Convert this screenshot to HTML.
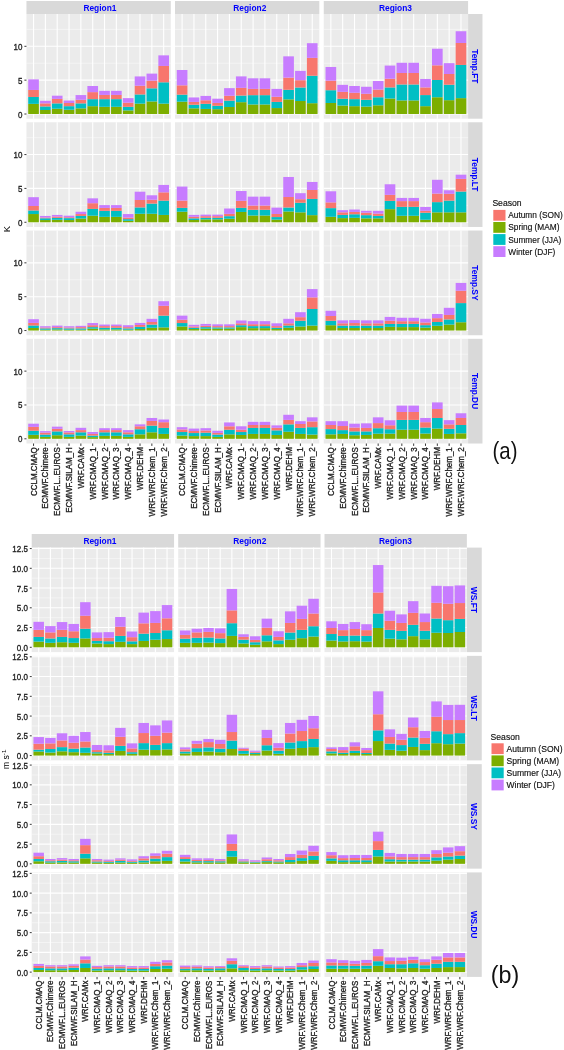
<!DOCTYPE html>
<html><head><meta charset="utf-8"><style>
html,body{margin:0;padding:0;background:#fff;}
body{width:564px;height:1050px;overflow:hidden;}
svg{display:block;filter:blur(0.35px);}
text{font-family:"Liberation Sans", sans-serif;}
.st{font-size:8.4px;font-weight:bold;fill:#0000FF;}
.yt{font-size:8px;fill:#1e1e1e;stroke:#1e1e1e;stroke-width:0.3px;}
.ttl{font-size:9.5px;fill:#000;}
.lt{font-size:8.6px;fill:#111;stroke:#111;stroke-width:0.15px;}
.lab{font-size:8.2px;fill:#111;stroke:#111;stroke-width:0.15px;}
.tag{font-size:24px;fill:#111;}
.gmaj{stroke:#fff;stroke-width:1.1;}
.gmin{stroke:#fff;stroke-width:0.45;}
.tk{stroke:#222;stroke-width:0.9;}
</style></head>
<body><svg width="564" height="1050" viewBox="0 0 564 1050">
<rect width="564" height="1050" fill="#fff"/>
<rect x="26.45" y="1" width="144.33" height="13" fill="#D9D9D9"/>
<text x="99.9" y="11.3" class="st" text-anchor="middle">Region1</text>
<rect x="175" y="1" width="144.33" height="13" fill="#D9D9D9"/>
<text x="249.8" y="11.3" class="st" text-anchor="middle">Region2</text>
<rect x="323.75" y="1" width="144.33" height="13" fill="#D9D9D9"/>
<text x="395.5" y="11.3" class="st" text-anchor="middle">Region3</text>
<rect x="468.08" y="14" width="14.4" height="104.7" fill="#D9D9D9"/>
<text x="472.08" y="66.35" class="st" text-anchor="middle" transform="rotate(90 472.08 66.35)">Temp.FT</text>
<rect x="26.45" y="14" width="144.33" height="104.7" fill="#EBEBEB"/>
<line x1="26.45" x2="170.78" y1="97.08" y2="97.08" class="gmin"/>
<line x1="26.45" x2="170.78" y1="63.23" y2="63.23" class="gmin"/>
<line x1="26.45" x2="170.78" y1="29.38" y2="29.38" class="gmin"/>
<line x1="26.45" x2="170.78" y1="114" y2="114" class="gmaj"/>
<line x1="26.45" x2="170.78" y1="80.15" y2="80.15" class="gmaj"/>
<line x1="26.45" x2="170.78" y1="46.3" y2="46.3" class="gmaj"/>
<line x1="33.55" x2="33.55" y1="14" y2="118.7" class="gmaj"/>
<line x1="45.38" x2="45.38" y1="14" y2="118.7" class="gmaj"/>
<line x1="57.21" x2="57.21" y1="14" y2="118.7" class="gmaj"/>
<line x1="69.04" x2="69.04" y1="14" y2="118.7" class="gmaj"/>
<line x1="80.87" x2="80.87" y1="14" y2="118.7" class="gmaj"/>
<line x1="92.7" x2="92.7" y1="14" y2="118.7" class="gmaj"/>
<line x1="104.53" x2="104.53" y1="14" y2="118.7" class="gmaj"/>
<line x1="116.36" x2="116.36" y1="14" y2="118.7" class="gmaj"/>
<line x1="128.19" x2="128.19" y1="14" y2="118.7" class="gmaj"/>
<line x1="140.02" x2="140.02" y1="14" y2="118.7" class="gmaj"/>
<line x1="151.85" x2="151.85" y1="14" y2="118.7" class="gmaj"/>
<line x1="163.68" x2="163.68" y1="14" y2="118.7" class="gmaj"/>
<rect x="28.22" y="103.87" width="10.65" height="10.13" fill="#7CAE00"/>
<rect x="28.22" y="96.98" width="10.65" height="6.89" fill="#00BFC4"/>
<rect x="28.22" y="89.96" width="10.65" height="7.02" fill="#F8766D"/>
<rect x="28.22" y="79.36" width="10.65" height="10.6" fill="#C77CFF"/>
<rect x="40.05" y="110" width="10.65" height="4" fill="#7CAE00"/>
<rect x="40.05" y="106.43" width="10.65" height="3.57" fill="#00BFC4"/>
<rect x="40.05" y="103.36" width="10.65" height="3.06" fill="#F8766D"/>
<rect x="40.05" y="100.81" width="10.65" height="2.55" fill="#C77CFF"/>
<rect x="51.89" y="108.73" width="10.65" height="5.27" fill="#7CAE00"/>
<rect x="51.89" y="103.36" width="10.65" height="5.36" fill="#00BFC4"/>
<rect x="51.89" y="98.9" width="10.65" height="4.47" fill="#F8766D"/>
<rect x="51.89" y="95.7" width="10.65" height="3.19" fill="#C77CFF"/>
<rect x="63.72" y="109.75" width="10.65" height="4.25" fill="#7CAE00"/>
<rect x="63.72" y="106.17" width="10.65" height="3.57" fill="#00BFC4"/>
<rect x="63.72" y="102.98" width="10.65" height="3.19" fill="#F8766D"/>
<rect x="63.72" y="100.56" width="10.65" height="2.43" fill="#C77CFF"/>
<rect x="75.55" y="108.34" width="10.65" height="5.66" fill="#7CAE00"/>
<rect x="75.55" y="103.36" width="10.65" height="4.98" fill="#00BFC4"/>
<rect x="75.55" y="99.79" width="10.65" height="3.57" fill="#F8766D"/>
<rect x="75.55" y="95.07" width="10.65" height="4.72" fill="#C77CFF"/>
<rect x="87.38" y="106.17" width="10.65" height="7.83" fill="#7CAE00"/>
<rect x="87.38" y="99.15" width="10.65" height="7.02" fill="#00BFC4"/>
<rect x="87.38" y="92.13" width="10.65" height="7.02" fill="#F8766D"/>
<rect x="87.38" y="86" width="10.65" height="6.13" fill="#C77CFF"/>
<rect x="99.21" y="106.81" width="10.65" height="7.19" fill="#7CAE00"/>
<rect x="99.21" y="99.15" width="10.65" height="7.66" fill="#00BFC4"/>
<rect x="99.21" y="94.94" width="10.65" height="4.21" fill="#F8766D"/>
<rect x="99.21" y="90.85" width="10.65" height="4.09" fill="#C77CFF"/>
<rect x="111.04" y="106.81" width="10.65" height="7.19" fill="#7CAE00"/>
<rect x="111.04" y="99.15" width="10.65" height="7.66" fill="#00BFC4"/>
<rect x="111.04" y="94.94" width="10.65" height="4.21" fill="#F8766D"/>
<rect x="111.04" y="90.85" width="10.65" height="4.09" fill="#C77CFF"/>
<rect x="122.87" y="110.39" width="10.65" height="3.61" fill="#7CAE00"/>
<rect x="122.87" y="106.81" width="10.65" height="3.57" fill="#00BFC4"/>
<rect x="122.87" y="102.73" width="10.65" height="4.09" fill="#F8766D"/>
<rect x="122.87" y="98.13" width="10.65" height="4.6" fill="#C77CFF"/>
<rect x="134.7" y="103.62" width="10.65" height="10.38" fill="#7CAE00"/>
<rect x="134.7" y="94.43" width="10.65" height="9.19" fill="#00BFC4"/>
<rect x="134.7" y="85.75" width="10.65" height="8.68" fill="#F8766D"/>
<rect x="134.7" y="76.43" width="10.65" height="9.32" fill="#C77CFF"/>
<rect x="146.53" y="101.45" width="10.65" height="12.55" fill="#7CAE00"/>
<rect x="146.53" y="88.3" width="10.65" height="13.15" fill="#00BFC4"/>
<rect x="146.53" y="80.64" width="10.65" height="7.66" fill="#F8766D"/>
<rect x="146.53" y="73.62" width="10.65" height="7.02" fill="#C77CFF"/>
<rect x="158.36" y="103.62" width="10.65" height="10.38" fill="#7CAE00"/>
<rect x="158.36" y="82.3" width="10.65" height="21.32" fill="#00BFC4"/>
<rect x="158.36" y="65.96" width="10.65" height="16.34" fill="#F8766D"/>
<rect x="158.36" y="55.36" width="10.65" height="10.6" fill="#C77CFF"/>
<rect x="175" y="14" width="144.33" height="104.7" fill="#EBEBEB"/>
<line x1="175" x2="319.33" y1="97.08" y2="97.08" class="gmin"/>
<line x1="175" x2="319.33" y1="63.23" y2="63.23" class="gmin"/>
<line x1="175" x2="319.33" y1="29.38" y2="29.38" class="gmin"/>
<line x1="175" x2="319.33" y1="114" y2="114" class="gmaj"/>
<line x1="175" x2="319.33" y1="80.15" y2="80.15" class="gmaj"/>
<line x1="175" x2="319.33" y1="46.3" y2="46.3" class="gmaj"/>
<line x1="182.1" x2="182.1" y1="14" y2="118.7" class="gmaj"/>
<line x1="193.93" x2="193.93" y1="14" y2="118.7" class="gmaj"/>
<line x1="205.76" x2="205.76" y1="14" y2="118.7" class="gmaj"/>
<line x1="217.59" x2="217.59" y1="14" y2="118.7" class="gmaj"/>
<line x1="229.42" x2="229.42" y1="14" y2="118.7" class="gmaj"/>
<line x1="241.25" x2="241.25" y1="14" y2="118.7" class="gmaj"/>
<line x1="253.08" x2="253.08" y1="14" y2="118.7" class="gmaj"/>
<line x1="264.91" x2="264.91" y1="14" y2="118.7" class="gmaj"/>
<line x1="276.74" x2="276.74" y1="14" y2="118.7" class="gmaj"/>
<line x1="288.57" x2="288.57" y1="14" y2="118.7" class="gmaj"/>
<line x1="300.4" x2="300.4" y1="14" y2="118.7" class="gmaj"/>
<line x1="312.23" x2="312.23" y1="14" y2="118.7" class="gmaj"/>
<rect x="176.77" y="101.66" width="10.65" height="12.34" fill="#7CAE00"/>
<rect x="176.77" y="94.64" width="10.65" height="7.02" fill="#00BFC4"/>
<rect x="176.77" y="85.32" width="10.65" height="9.32" fill="#F8766D"/>
<rect x="176.77" y="70" width="10.65" height="15.32" fill="#C77CFF"/>
<rect x="188.6" y="108.3" width="10.65" height="5.7" fill="#7CAE00"/>
<rect x="188.6" y="104.73" width="10.65" height="3.57" fill="#00BFC4"/>
<rect x="188.6" y="101.92" width="10.65" height="2.81" fill="#F8766D"/>
<rect x="188.6" y="97.45" width="10.65" height="4.47" fill="#C77CFF"/>
<rect x="200.44" y="108.94" width="10.65" height="5.06" fill="#7CAE00"/>
<rect x="200.44" y="103.83" width="10.65" height="5.11" fill="#00BFC4"/>
<rect x="200.44" y="100.26" width="10.65" height="3.57" fill="#F8766D"/>
<rect x="200.44" y="95.92" width="10.65" height="4.34" fill="#C77CFF"/>
<rect x="212.27" y="109.19" width="10.65" height="4.81" fill="#7CAE00"/>
<rect x="212.27" y="105.75" width="10.65" height="3.45" fill="#00BFC4"/>
<rect x="212.27" y="102.94" width="10.65" height="2.81" fill="#F8766D"/>
<rect x="212.27" y="98.73" width="10.65" height="4.21" fill="#C77CFF"/>
<rect x="224.1" y="107.02" width="10.65" height="6.98" fill="#7CAE00"/>
<rect x="224.1" y="100.64" width="10.65" height="6.38" fill="#00BFC4"/>
<rect x="224.1" y="95.79" width="10.65" height="4.85" fill="#F8766D"/>
<rect x="224.1" y="88.13" width="10.65" height="7.66" fill="#C77CFF"/>
<rect x="235.93" y="102.17" width="10.65" height="11.83" fill="#7CAE00"/>
<rect x="235.93" y="95.53" width="10.65" height="6.64" fill="#00BFC4"/>
<rect x="235.93" y="87.87" width="10.65" height="7.66" fill="#F8766D"/>
<rect x="235.93" y="76.38" width="10.65" height="11.49" fill="#C77CFF"/>
<rect x="247.76" y="104.47" width="10.65" height="9.53" fill="#7CAE00"/>
<rect x="247.76" y="95.15" width="10.65" height="9.32" fill="#00BFC4"/>
<rect x="247.76" y="88.9" width="10.65" height="6.26" fill="#F8766D"/>
<rect x="247.76" y="78.3" width="10.65" height="10.6" fill="#C77CFF"/>
<rect x="259.59" y="104.47" width="10.65" height="9.53" fill="#7CAE00"/>
<rect x="259.59" y="95.15" width="10.65" height="9.32" fill="#00BFC4"/>
<rect x="259.59" y="88.9" width="10.65" height="6.26" fill="#F8766D"/>
<rect x="259.59" y="78.3" width="10.65" height="10.6" fill="#C77CFF"/>
<rect x="271.42" y="108.05" width="10.65" height="5.95" fill="#7CAE00"/>
<rect x="271.42" y="101.92" width="10.65" height="6.13" fill="#00BFC4"/>
<rect x="271.42" y="96.81" width="10.65" height="5.11" fill="#F8766D"/>
<rect x="271.42" y="88.9" width="10.65" height="7.92" fill="#C77CFF"/>
<rect x="283.25" y="99.36" width="10.65" height="14.64" fill="#7CAE00"/>
<rect x="283.25" y="89.79" width="10.65" height="9.57" fill="#00BFC4"/>
<rect x="283.25" y="77.66" width="10.65" height="12.13" fill="#F8766D"/>
<rect x="283.25" y="56.34" width="10.65" height="21.32" fill="#C77CFF"/>
<rect x="295.08" y="101.02" width="10.65" height="12.98" fill="#7CAE00"/>
<rect x="295.08" y="87.49" width="10.65" height="13.53" fill="#00BFC4"/>
<rect x="295.08" y="80.21" width="10.65" height="7.28" fill="#F8766D"/>
<rect x="295.08" y="70.89" width="10.65" height="9.32" fill="#C77CFF"/>
<rect x="306.91" y="103.19" width="10.65" height="10.81" fill="#7CAE00"/>
<rect x="306.91" y="75.75" width="10.65" height="27.45" fill="#00BFC4"/>
<rect x="306.91" y="57.87" width="10.65" height="17.87" fill="#F8766D"/>
<rect x="306.91" y="43.19" width="10.65" height="14.68" fill="#C77CFF"/>
<rect x="323.75" y="14" width="144.33" height="104.7" fill="#EBEBEB"/>
<line x1="323.75" x2="468.08" y1="97.08" y2="97.08" class="gmin"/>
<line x1="323.75" x2="468.08" y1="63.23" y2="63.23" class="gmin"/>
<line x1="323.75" x2="468.08" y1="29.38" y2="29.38" class="gmin"/>
<line x1="323.75" x2="468.08" y1="114" y2="114" class="gmaj"/>
<line x1="323.75" x2="468.08" y1="80.15" y2="80.15" class="gmaj"/>
<line x1="323.75" x2="468.08" y1="46.3" y2="46.3" class="gmaj"/>
<line x1="330.85" x2="330.85" y1="14" y2="118.7" class="gmaj"/>
<line x1="342.68" x2="342.68" y1="14" y2="118.7" class="gmaj"/>
<line x1="354.51" x2="354.51" y1="14" y2="118.7" class="gmaj"/>
<line x1="366.34" x2="366.34" y1="14" y2="118.7" class="gmaj"/>
<line x1="378.17" x2="378.17" y1="14" y2="118.7" class="gmaj"/>
<line x1="390" x2="390" y1="14" y2="118.7" class="gmaj"/>
<line x1="401.83" x2="401.83" y1="14" y2="118.7" class="gmaj"/>
<line x1="413.66" x2="413.66" y1="14" y2="118.7" class="gmaj"/>
<line x1="425.49" x2="425.49" y1="14" y2="118.7" class="gmaj"/>
<line x1="437.32" x2="437.32" y1="14" y2="118.7" class="gmaj"/>
<line x1="449.15" x2="449.15" y1="14" y2="118.7" class="gmaj"/>
<line x1="460.98" x2="460.98" y1="14" y2="118.7" class="gmaj"/>
<rect x="325.52" y="102.98" width="10.65" height="11.02" fill="#7CAE00"/>
<rect x="325.52" y="90.22" width="10.65" height="12.77" fill="#00BFC4"/>
<rect x="325.52" y="80.64" width="10.65" height="9.57" fill="#F8766D"/>
<rect x="325.52" y="66.98" width="10.65" height="13.66" fill="#C77CFF"/>
<rect x="337.35" y="105.54" width="10.65" height="8.46" fill="#7CAE00"/>
<rect x="337.35" y="98.77" width="10.65" height="6.77" fill="#00BFC4"/>
<rect x="337.35" y="91.88" width="10.65" height="6.89" fill="#F8766D"/>
<rect x="337.35" y="84.85" width="10.65" height="7.02" fill="#C77CFF"/>
<rect x="349.19" y="106.17" width="10.65" height="7.83" fill="#7CAE00"/>
<rect x="349.19" y="99.15" width="10.65" height="7.02" fill="#00BFC4"/>
<rect x="349.19" y="92.77" width="10.65" height="6.38" fill="#F8766D"/>
<rect x="349.19" y="86" width="10.65" height="6.77" fill="#C77CFF"/>
<rect x="361.02" y="106.56" width="10.65" height="7.44" fill="#7CAE00"/>
<rect x="361.02" y="99.79" width="10.65" height="6.77" fill="#00BFC4"/>
<rect x="361.02" y="93.79" width="10.65" height="6" fill="#F8766D"/>
<rect x="361.02" y="86.77" width="10.65" height="7.02" fill="#C77CFF"/>
<rect x="372.85" y="105.28" width="10.65" height="8.72" fill="#7CAE00"/>
<rect x="372.85" y="97.24" width="10.65" height="8.04" fill="#00BFC4"/>
<rect x="372.85" y="89.58" width="10.65" height="7.66" fill="#F8766D"/>
<rect x="372.85" y="81.02" width="10.65" height="8.55" fill="#C77CFF"/>
<rect x="384.68" y="98.51" width="10.65" height="15.49" fill="#7CAE00"/>
<rect x="384.68" y="87.41" width="10.65" height="11.11" fill="#00BFC4"/>
<rect x="384.68" y="78.73" width="10.65" height="8.68" fill="#F8766D"/>
<rect x="384.68" y="65.58" width="10.65" height="13.15" fill="#C77CFF"/>
<rect x="396.51" y="100.43" width="10.65" height="13.57" fill="#7CAE00"/>
<rect x="396.51" y="84.47" width="10.65" height="15.96" fill="#00BFC4"/>
<rect x="396.51" y="72.98" width="10.65" height="11.49" fill="#F8766D"/>
<rect x="396.51" y="62.77" width="10.65" height="10.21" fill="#C77CFF"/>
<rect x="408.34" y="100.43" width="10.65" height="13.57" fill="#7CAE00"/>
<rect x="408.34" y="84.47" width="10.65" height="15.96" fill="#00BFC4"/>
<rect x="408.34" y="72.98" width="10.65" height="11.49" fill="#F8766D"/>
<rect x="408.34" y="62.77" width="10.65" height="10.21" fill="#C77CFF"/>
<rect x="420.17" y="106.17" width="10.65" height="7.83" fill="#7CAE00"/>
<rect x="420.17" y="95.07" width="10.65" height="11.11" fill="#00BFC4"/>
<rect x="420.17" y="87.41" width="10.65" height="7.66" fill="#F8766D"/>
<rect x="420.17" y="78.98" width="10.65" height="8.43" fill="#C77CFF"/>
<rect x="432" y="97.24" width="10.65" height="16.76" fill="#7CAE00"/>
<rect x="432" y="80" width="10.65" height="17.23" fill="#00BFC4"/>
<rect x="432" y="65.32" width="10.65" height="14.68" fill="#F8766D"/>
<rect x="432" y="48.72" width="10.65" height="16.6" fill="#C77CFF"/>
<rect x="443.83" y="100.17" width="10.65" height="13.83" fill="#7CAE00"/>
<rect x="443.83" y="84.73" width="10.65" height="15.45" fill="#00BFC4"/>
<rect x="443.83" y="74" width="10.65" height="10.72" fill="#F8766D"/>
<rect x="443.83" y="63.15" width="10.65" height="10.85" fill="#C77CFF"/>
<rect x="455.66" y="98.13" width="10.65" height="15.87" fill="#7CAE00"/>
<rect x="455.66" y="64.94" width="10.65" height="33.19" fill="#00BFC4"/>
<rect x="455.66" y="42.98" width="10.65" height="21.96" fill="#F8766D"/>
<rect x="455.66" y="31.23" width="10.65" height="11.75" fill="#C77CFF"/>
<text class="yt" text-anchor="end" transform="translate(22.5 117.5) scale(1,1.15)">0</text>
<line x1="24.4" x2="26.45" y1="114" y2="114" class="tk"/>
<text class="yt" text-anchor="end" transform="translate(22.5 83.65) scale(1,1.15)">5</text>
<line x1="24.4" x2="26.45" y1="80.15" y2="80.15" class="tk"/>
<text class="yt" text-anchor="end" transform="translate(22.5 49.8) scale(1,1.15)">10</text>
<line x1="24.4" x2="26.45" y1="46.3" y2="46.3" class="tk"/>
<rect x="468.08" y="122.27" width="14.4" height="104.7" fill="#D9D9D9"/>
<text x="472.08" y="174.62" class="st" text-anchor="middle" transform="rotate(90 472.08 174.62)">Temp.LT</text>
<rect x="26.45" y="122.27" width="144.33" height="104.7" fill="#EBEBEB"/>
<line x1="26.45" x2="170.78" y1="205.35" y2="205.35" class="gmin"/>
<line x1="26.45" x2="170.78" y1="171.5" y2="171.5" class="gmin"/>
<line x1="26.45" x2="170.78" y1="137.65" y2="137.65" class="gmin"/>
<line x1="26.45" x2="170.78" y1="222.27" y2="222.27" class="gmaj"/>
<line x1="26.45" x2="170.78" y1="188.42" y2="188.42" class="gmaj"/>
<line x1="26.45" x2="170.78" y1="154.57" y2="154.57" class="gmaj"/>
<line x1="33.55" x2="33.55" y1="122.27" y2="226.97" class="gmaj"/>
<line x1="45.38" x2="45.38" y1="122.27" y2="226.97" class="gmaj"/>
<line x1="57.21" x2="57.21" y1="122.27" y2="226.97" class="gmaj"/>
<line x1="69.04" x2="69.04" y1="122.27" y2="226.97" class="gmaj"/>
<line x1="80.87" x2="80.87" y1="122.27" y2="226.97" class="gmaj"/>
<line x1="92.7" x2="92.7" y1="122.27" y2="226.97" class="gmaj"/>
<line x1="104.53" x2="104.53" y1="122.27" y2="226.97" class="gmaj"/>
<line x1="116.36" x2="116.36" y1="122.27" y2="226.97" class="gmaj"/>
<line x1="128.19" x2="128.19" y1="122.27" y2="226.97" class="gmaj"/>
<line x1="140.02" x2="140.02" y1="122.27" y2="226.97" class="gmaj"/>
<line x1="151.85" x2="151.85" y1="122.27" y2="226.97" class="gmaj"/>
<line x1="163.68" x2="163.68" y1="122.27" y2="226.97" class="gmaj"/>
<rect x="28.22" y="214.04" width="10.65" height="8.23" fill="#7CAE00"/>
<rect x="28.22" y="210.47" width="10.65" height="3.57" fill="#00BFC4"/>
<rect x="28.22" y="206" width="10.65" height="4.47" fill="#F8766D"/>
<rect x="28.22" y="197.19" width="10.65" height="8.81" fill="#C77CFF"/>
<rect x="40.05" y="220.04" width="10.65" height="2.23" fill="#7CAE00"/>
<rect x="40.05" y="218.26" width="10.65" height="1.79" fill="#00BFC4"/>
<rect x="40.05" y="217.49" width="10.65" height="0.77" fill="#F8766D"/>
<rect x="40.05" y="215.96" width="10.65" height="1.53" fill="#C77CFF"/>
<rect x="51.89" y="219.79" width="10.65" height="2.48" fill="#7CAE00"/>
<rect x="51.89" y="217.87" width="10.65" height="1.91" fill="#00BFC4"/>
<rect x="51.89" y="216.6" width="10.65" height="1.28" fill="#F8766D"/>
<rect x="51.89" y="214.94" width="10.65" height="1.66" fill="#C77CFF"/>
<rect x="63.72" y="220.04" width="10.65" height="2.23" fill="#7CAE00"/>
<rect x="63.72" y="218.13" width="10.65" height="1.91" fill="#00BFC4"/>
<rect x="63.72" y="217.24" width="10.65" height="0.89" fill="#F8766D"/>
<rect x="63.72" y="215.7" width="10.65" height="1.53" fill="#C77CFF"/>
<rect x="75.55" y="218.51" width="10.65" height="3.76" fill="#7CAE00"/>
<rect x="75.55" y="215.96" width="10.65" height="2.55" fill="#00BFC4"/>
<rect x="75.55" y="214.04" width="10.65" height="1.91" fill="#F8766D"/>
<rect x="75.55" y="211.75" width="10.65" height="2.3" fill="#C77CFF"/>
<rect x="87.38" y="215.7" width="10.65" height="6.57" fill="#7CAE00"/>
<rect x="87.38" y="208.94" width="10.65" height="6.77" fill="#00BFC4"/>
<rect x="87.38" y="203.19" width="10.65" height="5.74" fill="#F8766D"/>
<rect x="87.38" y="198.34" width="10.65" height="4.85" fill="#C77CFF"/>
<rect x="99.21" y="216.85" width="10.65" height="5.42" fill="#7CAE00"/>
<rect x="99.21" y="210.85" width="10.65" height="6" fill="#00BFC4"/>
<rect x="99.21" y="207.92" width="10.65" height="2.94" fill="#F8766D"/>
<rect x="99.21" y="205.11" width="10.65" height="2.81" fill="#C77CFF"/>
<rect x="111.04" y="216.85" width="10.65" height="5.42" fill="#7CAE00"/>
<rect x="111.04" y="210.85" width="10.65" height="6" fill="#00BFC4"/>
<rect x="111.04" y="207.92" width="10.65" height="2.94" fill="#F8766D"/>
<rect x="111.04" y="205.11" width="10.65" height="2.81" fill="#C77CFF"/>
<rect x="122.87" y="220.81" width="10.65" height="1.46" fill="#7CAE00"/>
<rect x="122.87" y="219.15" width="10.65" height="1.66" fill="#00BFC4"/>
<rect x="122.87" y="217.62" width="10.65" height="1.53" fill="#F8766D"/>
<rect x="122.87" y="214.04" width="10.65" height="3.57" fill="#C77CFF"/>
<rect x="134.7" y="213.79" width="10.65" height="8.48" fill="#7CAE00"/>
<rect x="134.7" y="207.41" width="10.65" height="6.38" fill="#00BFC4"/>
<rect x="134.7" y="200" width="10.65" height="7.4" fill="#F8766D"/>
<rect x="134.7" y="191.7" width="10.65" height="8.3" fill="#C77CFF"/>
<rect x="146.53" y="213.79" width="10.65" height="8.48" fill="#7CAE00"/>
<rect x="146.53" y="203.58" width="10.65" height="10.21" fill="#00BFC4"/>
<rect x="146.53" y="199.75" width="10.65" height="3.83" fill="#F8766D"/>
<rect x="146.53" y="195.28" width="10.65" height="4.47" fill="#C77CFF"/>
<rect x="158.36" y="214.94" width="10.65" height="7.33" fill="#7CAE00"/>
<rect x="158.36" y="200.64" width="10.65" height="14.3" fill="#00BFC4"/>
<rect x="158.36" y="192.34" width="10.65" height="8.3" fill="#F8766D"/>
<rect x="158.36" y="184.94" width="10.65" height="7.4" fill="#C77CFF"/>
<rect x="175" y="122.27" width="144.33" height="104.7" fill="#EBEBEB"/>
<line x1="175" x2="319.33" y1="205.35" y2="205.35" class="gmin"/>
<line x1="175" x2="319.33" y1="171.5" y2="171.5" class="gmin"/>
<line x1="175" x2="319.33" y1="137.65" y2="137.65" class="gmin"/>
<line x1="175" x2="319.33" y1="222.27" y2="222.27" class="gmaj"/>
<line x1="175" x2="319.33" y1="188.42" y2="188.42" class="gmaj"/>
<line x1="175" x2="319.33" y1="154.57" y2="154.57" class="gmaj"/>
<line x1="182.1" x2="182.1" y1="122.27" y2="226.97" class="gmaj"/>
<line x1="193.93" x2="193.93" y1="122.27" y2="226.97" class="gmaj"/>
<line x1="205.76" x2="205.76" y1="122.27" y2="226.97" class="gmaj"/>
<line x1="217.59" x2="217.59" y1="122.27" y2="226.97" class="gmaj"/>
<line x1="229.42" x2="229.42" y1="122.27" y2="226.97" class="gmaj"/>
<line x1="241.25" x2="241.25" y1="122.27" y2="226.97" class="gmaj"/>
<line x1="253.08" x2="253.08" y1="122.27" y2="226.97" class="gmaj"/>
<line x1="264.91" x2="264.91" y1="122.27" y2="226.97" class="gmaj"/>
<line x1="276.74" x2="276.74" y1="122.27" y2="226.97" class="gmaj"/>
<line x1="288.57" x2="288.57" y1="122.27" y2="226.97" class="gmaj"/>
<line x1="300.4" x2="300.4" y1="122.27" y2="226.97" class="gmaj"/>
<line x1="312.23" x2="312.23" y1="122.27" y2="226.97" class="gmaj"/>
<rect x="176.77" y="211.7" width="10.65" height="10.57" fill="#7CAE00"/>
<rect x="176.77" y="207.87" width="10.65" height="3.83" fill="#00BFC4"/>
<rect x="176.77" y="200.6" width="10.65" height="7.28" fill="#F8766D"/>
<rect x="176.77" y="186.55" width="10.65" height="14.04" fill="#C77CFF"/>
<rect x="188.6" y="220" width="10.65" height="2.27" fill="#7CAE00"/>
<rect x="188.6" y="218.34" width="10.65" height="1.66" fill="#00BFC4"/>
<rect x="188.6" y="216.81" width="10.65" height="1.53" fill="#F8766D"/>
<rect x="188.6" y="214.9" width="10.65" height="1.91" fill="#C77CFF"/>
<rect x="200.44" y="219.36" width="10.65" height="2.91" fill="#7CAE00"/>
<rect x="200.44" y="217.83" width="10.65" height="1.53" fill="#00BFC4"/>
<rect x="200.44" y="216.17" width="10.65" height="1.66" fill="#F8766D"/>
<rect x="200.44" y="214.64" width="10.65" height="1.53" fill="#C77CFF"/>
<rect x="212.27" y="219.36" width="10.65" height="2.91" fill="#7CAE00"/>
<rect x="212.27" y="217.83" width="10.65" height="1.53" fill="#00BFC4"/>
<rect x="212.27" y="216.17" width="10.65" height="1.66" fill="#F8766D"/>
<rect x="212.27" y="214.64" width="10.65" height="1.53" fill="#C77CFF"/>
<rect x="224.1" y="218.73" width="10.65" height="3.54" fill="#7CAE00"/>
<rect x="224.1" y="216.17" width="10.65" height="2.55" fill="#00BFC4"/>
<rect x="224.1" y="213.87" width="10.65" height="2.3" fill="#F8766D"/>
<rect x="224.1" y="208.51" width="10.65" height="5.36" fill="#C77CFF"/>
<rect x="235.93" y="211.96" width="10.65" height="10.31" fill="#7CAE00"/>
<rect x="235.93" y="207.87" width="10.65" height="4.09" fill="#00BFC4"/>
<rect x="235.93" y="200.85" width="10.65" height="7.02" fill="#F8766D"/>
<rect x="235.93" y="191.02" width="10.65" height="9.83" fill="#C77CFF"/>
<rect x="247.76" y="215.53" width="10.65" height="6.74" fill="#7CAE00"/>
<rect x="247.76" y="209.79" width="10.65" height="5.74" fill="#00BFC4"/>
<rect x="247.76" y="205.58" width="10.65" height="4.21" fill="#F8766D"/>
<rect x="247.76" y="196.64" width="10.65" height="8.94" fill="#C77CFF"/>
<rect x="259.59" y="215.53" width="10.65" height="6.74" fill="#7CAE00"/>
<rect x="259.59" y="209.79" width="10.65" height="5.74" fill="#00BFC4"/>
<rect x="259.59" y="205.58" width="10.65" height="4.21" fill="#F8766D"/>
<rect x="259.59" y="196.64" width="10.65" height="8.94" fill="#C77CFF"/>
<rect x="271.42" y="219.62" width="10.65" height="2.65" fill="#7CAE00"/>
<rect x="271.42" y="217.07" width="10.65" height="2.55" fill="#00BFC4"/>
<rect x="271.42" y="214" width="10.65" height="3.06" fill="#F8766D"/>
<rect x="271.42" y="207.62" width="10.65" height="6.38" fill="#C77CFF"/>
<rect x="283.25" y="211.45" width="10.65" height="10.82" fill="#7CAE00"/>
<rect x="283.25" y="207.49" width="10.65" height="3.96" fill="#00BFC4"/>
<rect x="283.25" y="197.02" width="10.65" height="10.47" fill="#F8766D"/>
<rect x="283.25" y="176.98" width="10.65" height="20.04" fill="#C77CFF"/>
<rect x="295.08" y="212.34" width="10.65" height="9.93" fill="#7CAE00"/>
<rect x="295.08" y="202.77" width="10.65" height="9.57" fill="#00BFC4"/>
<rect x="295.08" y="199.19" width="10.65" height="3.57" fill="#F8766D"/>
<rect x="295.08" y="193.19" width="10.65" height="6" fill="#C77CFF"/>
<rect x="306.91" y="215.15" width="10.65" height="7.12" fill="#7CAE00"/>
<rect x="306.91" y="198.94" width="10.65" height="16.21" fill="#00BFC4"/>
<rect x="306.91" y="190" width="10.65" height="8.94" fill="#F8766D"/>
<rect x="306.91" y="181.96" width="10.65" height="8.04" fill="#C77CFF"/>
<rect x="323.75" y="122.27" width="144.33" height="104.7" fill="#EBEBEB"/>
<line x1="323.75" x2="468.08" y1="205.35" y2="205.35" class="gmin"/>
<line x1="323.75" x2="468.08" y1="171.5" y2="171.5" class="gmin"/>
<line x1="323.75" x2="468.08" y1="137.65" y2="137.65" class="gmin"/>
<line x1="323.75" x2="468.08" y1="222.27" y2="222.27" class="gmaj"/>
<line x1="323.75" x2="468.08" y1="188.42" y2="188.42" class="gmaj"/>
<line x1="323.75" x2="468.08" y1="154.57" y2="154.57" class="gmaj"/>
<line x1="330.85" x2="330.85" y1="122.27" y2="226.97" class="gmaj"/>
<line x1="342.68" x2="342.68" y1="122.27" y2="226.97" class="gmaj"/>
<line x1="354.51" x2="354.51" y1="122.27" y2="226.97" class="gmaj"/>
<line x1="366.34" x2="366.34" y1="122.27" y2="226.97" class="gmaj"/>
<line x1="378.17" x2="378.17" y1="122.27" y2="226.97" class="gmaj"/>
<line x1="390" x2="390" y1="122.27" y2="226.97" class="gmaj"/>
<line x1="401.83" x2="401.83" y1="122.27" y2="226.97" class="gmaj"/>
<line x1="413.66" x2="413.66" y1="122.27" y2="226.97" class="gmaj"/>
<line x1="425.49" x2="425.49" y1="122.27" y2="226.97" class="gmaj"/>
<line x1="437.32" x2="437.32" y1="122.27" y2="226.97" class="gmaj"/>
<line x1="449.15" x2="449.15" y1="122.27" y2="226.97" class="gmaj"/>
<line x1="460.98" x2="460.98" y1="122.27" y2="226.97" class="gmaj"/>
<rect x="325.52" y="216.81" width="10.65" height="5.46" fill="#7CAE00"/>
<rect x="325.52" y="208.13" width="10.65" height="8.68" fill="#00BFC4"/>
<rect x="325.52" y="202.38" width="10.65" height="5.74" fill="#F8766D"/>
<rect x="325.52" y="191.28" width="10.65" height="11.11" fill="#C77CFF"/>
<rect x="337.35" y="218.09" width="10.65" height="4.18" fill="#7CAE00"/>
<rect x="337.35" y="214.9" width="10.65" height="3.19" fill="#00BFC4"/>
<rect x="337.35" y="212.34" width="10.65" height="2.55" fill="#F8766D"/>
<rect x="337.35" y="210.17" width="10.65" height="2.17" fill="#C77CFF"/>
<rect x="349.19" y="217.83" width="10.65" height="4.44" fill="#7CAE00"/>
<rect x="349.19" y="214.26" width="10.65" height="3.57" fill="#00BFC4"/>
<rect x="349.19" y="211.96" width="10.65" height="2.3" fill="#F8766D"/>
<rect x="349.19" y="209.53" width="10.65" height="2.43" fill="#C77CFF"/>
<rect x="361.02" y="218.34" width="10.65" height="3.93" fill="#7CAE00"/>
<rect x="361.02" y="215.15" width="10.65" height="3.19" fill="#00BFC4"/>
<rect x="361.02" y="212.73" width="10.65" height="2.43" fill="#F8766D"/>
<rect x="361.02" y="210.81" width="10.65" height="1.91" fill="#C77CFF"/>
<rect x="372.85" y="218.34" width="10.65" height="3.93" fill="#7CAE00"/>
<rect x="372.85" y="215.92" width="10.65" height="2.43" fill="#00BFC4"/>
<rect x="372.85" y="213.62" width="10.65" height="2.3" fill="#F8766D"/>
<rect x="372.85" y="210.81" width="10.65" height="2.81" fill="#C77CFF"/>
<rect x="384.68" y="209.15" width="10.65" height="13.12" fill="#7CAE00"/>
<rect x="384.68" y="200.85" width="10.65" height="8.3" fill="#00BFC4"/>
<rect x="384.68" y="194.85" width="10.65" height="6" fill="#F8766D"/>
<rect x="384.68" y="184.26" width="10.65" height="10.6" fill="#C77CFF"/>
<rect x="396.51" y="215.79" width="10.65" height="6.48" fill="#7CAE00"/>
<rect x="396.51" y="206.85" width="10.65" height="8.94" fill="#00BFC4"/>
<rect x="396.51" y="201.11" width="10.65" height="5.74" fill="#F8766D"/>
<rect x="396.51" y="197.92" width="10.65" height="3.19" fill="#C77CFF"/>
<rect x="408.34" y="215.79" width="10.65" height="6.48" fill="#7CAE00"/>
<rect x="408.34" y="206.85" width="10.65" height="8.94" fill="#00BFC4"/>
<rect x="408.34" y="201.11" width="10.65" height="5.74" fill="#F8766D"/>
<rect x="408.34" y="197.92" width="10.65" height="3.19" fill="#C77CFF"/>
<rect x="420.17" y="219.75" width="10.65" height="2.52" fill="#7CAE00"/>
<rect x="420.17" y="212.73" width="10.65" height="7.02" fill="#00BFC4"/>
<rect x="420.17" y="210.81" width="10.65" height="1.91" fill="#F8766D"/>
<rect x="420.17" y="206.98" width="10.65" height="3.83" fill="#C77CFF"/>
<rect x="432" y="212.34" width="10.65" height="9.93" fill="#7CAE00"/>
<rect x="432" y="202.13" width="10.65" height="10.21" fill="#00BFC4"/>
<rect x="432" y="193.58" width="10.65" height="8.55" fill="#F8766D"/>
<rect x="432" y="179.79" width="10.65" height="13.79" fill="#C77CFF"/>
<rect x="443.83" y="212.34" width="10.65" height="9.93" fill="#7CAE00"/>
<rect x="443.83" y="200.6" width="10.65" height="11.75" fill="#00BFC4"/>
<rect x="443.83" y="193.83" width="10.65" height="6.77" fill="#F8766D"/>
<rect x="443.83" y="190.26" width="10.65" height="3.57" fill="#C77CFF"/>
<rect x="455.66" y="212.34" width="10.65" height="9.93" fill="#7CAE00"/>
<rect x="455.66" y="191.53" width="10.65" height="20.81" fill="#00BFC4"/>
<rect x="455.66" y="178.89" width="10.65" height="12.64" fill="#F8766D"/>
<rect x="455.66" y="174.68" width="10.65" height="4.21" fill="#C77CFF"/>
<text class="yt" text-anchor="end" transform="translate(22.5 225.77) scale(1,1.15)">0</text>
<line x1="24.4" x2="26.45" y1="222.27" y2="222.27" class="tk"/>
<text class="yt" text-anchor="end" transform="translate(22.5 191.92) scale(1,1.15)">5</text>
<line x1="24.4" x2="26.45" y1="188.42" y2="188.42" class="tk"/>
<text class="yt" text-anchor="end" transform="translate(22.5 158.07) scale(1,1.15)">10</text>
<line x1="24.4" x2="26.45" y1="154.57" y2="154.57" class="tk"/>
<rect x="468.08" y="230.54" width="14.4" height="104.7" fill="#D9D9D9"/>
<text x="472.08" y="282.89" class="st" text-anchor="middle" transform="rotate(90 472.08 282.89)">Temp.SY</text>
<rect x="26.45" y="230.54" width="144.33" height="104.7" fill="#EBEBEB"/>
<line x1="26.45" x2="170.78" y1="313.62" y2="313.62" class="gmin"/>
<line x1="26.45" x2="170.78" y1="279.77" y2="279.77" class="gmin"/>
<line x1="26.45" x2="170.78" y1="245.92" y2="245.92" class="gmin"/>
<line x1="26.45" x2="170.78" y1="330.54" y2="330.54" class="gmaj"/>
<line x1="26.45" x2="170.78" y1="296.69" y2="296.69" class="gmaj"/>
<line x1="26.45" x2="170.78" y1="262.84" y2="262.84" class="gmaj"/>
<line x1="33.55" x2="33.55" y1="230.54" y2="335.24" class="gmaj"/>
<line x1="45.38" x2="45.38" y1="230.54" y2="335.24" class="gmaj"/>
<line x1="57.21" x2="57.21" y1="230.54" y2="335.24" class="gmaj"/>
<line x1="69.04" x2="69.04" y1="230.54" y2="335.24" class="gmaj"/>
<line x1="80.87" x2="80.87" y1="230.54" y2="335.24" class="gmaj"/>
<line x1="92.7" x2="92.7" y1="230.54" y2="335.24" class="gmaj"/>
<line x1="104.53" x2="104.53" y1="230.54" y2="335.24" class="gmaj"/>
<line x1="116.36" x2="116.36" y1="230.54" y2="335.24" class="gmaj"/>
<line x1="128.19" x2="128.19" y1="230.54" y2="335.24" class="gmaj"/>
<line x1="140.02" x2="140.02" y1="230.54" y2="335.24" class="gmaj"/>
<line x1="151.85" x2="151.85" y1="230.54" y2="335.24" class="gmaj"/>
<line x1="163.68" x2="163.68" y1="230.54" y2="335.24" class="gmaj"/>
<rect x="28.22" y="328.02" width="10.65" height="2.52" fill="#7CAE00"/>
<rect x="28.22" y="325.47" width="10.65" height="2.55" fill="#00BFC4"/>
<rect x="28.22" y="322.92" width="10.65" height="2.55" fill="#F8766D"/>
<rect x="28.22" y="319.21" width="10.65" height="3.7" fill="#C77CFF"/>
<rect x="40.05" y="329.68" width="10.65" height="0.86" fill="#7CAE00"/>
<rect x="40.05" y="328.41" width="10.65" height="1.28" fill="#00BFC4"/>
<rect x="40.05" y="327.51" width="10.65" height="0.89" fill="#F8766D"/>
<rect x="40.05" y="326.24" width="10.65" height="1.28" fill="#C77CFF"/>
<rect x="51.89" y="329.43" width="10.65" height="1.11" fill="#7CAE00"/>
<rect x="51.89" y="328.15" width="10.65" height="1.28" fill="#00BFC4"/>
<rect x="51.89" y="327.13" width="10.65" height="1.02" fill="#F8766D"/>
<rect x="51.89" y="325.6" width="10.65" height="1.53" fill="#C77CFF"/>
<rect x="63.72" y="329.68" width="10.65" height="0.86" fill="#7CAE00"/>
<rect x="63.72" y="328.41" width="10.65" height="1.28" fill="#00BFC4"/>
<rect x="63.72" y="327.51" width="10.65" height="0.89" fill="#F8766D"/>
<rect x="63.72" y="326.24" width="10.65" height="1.28" fill="#C77CFF"/>
<rect x="75.55" y="329.68" width="10.65" height="0.86" fill="#7CAE00"/>
<rect x="75.55" y="328.41" width="10.65" height="1.28" fill="#00BFC4"/>
<rect x="75.55" y="327.13" width="10.65" height="1.28" fill="#F8766D"/>
<rect x="75.55" y="325.85" width="10.65" height="1.28" fill="#C77CFF"/>
<rect x="87.38" y="328.66" width="10.65" height="1.88" fill="#7CAE00"/>
<rect x="87.38" y="327.13" width="10.65" height="1.53" fill="#00BFC4"/>
<rect x="87.38" y="325.21" width="10.65" height="1.91" fill="#F8766D"/>
<rect x="87.38" y="323.04" width="10.65" height="2.17" fill="#C77CFF"/>
<rect x="99.21" y="329.43" width="10.65" height="1.11" fill="#7CAE00"/>
<rect x="99.21" y="327.77" width="10.65" height="1.66" fill="#00BFC4"/>
<rect x="99.21" y="326.11" width="10.65" height="1.66" fill="#F8766D"/>
<rect x="99.21" y="324.58" width="10.65" height="1.53" fill="#C77CFF"/>
<rect x="111.04" y="329.43" width="10.65" height="1.11" fill="#7CAE00"/>
<rect x="111.04" y="327.77" width="10.65" height="1.66" fill="#00BFC4"/>
<rect x="111.04" y="326.11" width="10.65" height="1.66" fill="#F8766D"/>
<rect x="111.04" y="324.58" width="10.65" height="1.53" fill="#C77CFF"/>
<rect x="122.87" y="329.68" width="10.65" height="0.86" fill="#7CAE00"/>
<rect x="122.87" y="328.41" width="10.65" height="1.28" fill="#00BFC4"/>
<rect x="122.87" y="327.13" width="10.65" height="1.28" fill="#F8766D"/>
<rect x="122.87" y="325.21" width="10.65" height="1.91" fill="#C77CFF"/>
<rect x="134.7" y="329.04" width="10.65" height="1.5" fill="#7CAE00"/>
<rect x="134.7" y="326.87" width="10.65" height="2.17" fill="#00BFC4"/>
<rect x="134.7" y="324.96" width="10.65" height="1.91" fill="#F8766D"/>
<rect x="134.7" y="322.92" width="10.65" height="2.04" fill="#C77CFF"/>
<rect x="146.53" y="327.77" width="10.65" height="2.77" fill="#7CAE00"/>
<rect x="146.53" y="324.58" width="10.65" height="3.19" fill="#00BFC4"/>
<rect x="146.53" y="322.02" width="10.65" height="2.55" fill="#F8766D"/>
<rect x="146.53" y="318.83" width="10.65" height="3.19" fill="#C77CFF"/>
<rect x="158.36" y="327.38" width="10.65" height="3.16" fill="#7CAE00"/>
<rect x="158.36" y="315.64" width="10.65" height="11.75" fill="#00BFC4"/>
<rect x="158.36" y="305.81" width="10.65" height="9.83" fill="#F8766D"/>
<rect x="158.36" y="301.21" width="10.65" height="4.6" fill="#C77CFF"/>
<rect x="175" y="230.54" width="144.33" height="104.7" fill="#EBEBEB"/>
<line x1="175" x2="319.33" y1="313.62" y2="313.62" class="gmin"/>
<line x1="175" x2="319.33" y1="279.77" y2="279.77" class="gmin"/>
<line x1="175" x2="319.33" y1="245.92" y2="245.92" class="gmin"/>
<line x1="175" x2="319.33" y1="330.54" y2="330.54" class="gmaj"/>
<line x1="175" x2="319.33" y1="296.69" y2="296.69" class="gmaj"/>
<line x1="175" x2="319.33" y1="262.84" y2="262.84" class="gmaj"/>
<line x1="182.1" x2="182.1" y1="230.54" y2="335.24" class="gmaj"/>
<line x1="193.93" x2="193.93" y1="230.54" y2="335.24" class="gmaj"/>
<line x1="205.76" x2="205.76" y1="230.54" y2="335.24" class="gmaj"/>
<line x1="217.59" x2="217.59" y1="230.54" y2="335.24" class="gmaj"/>
<line x1="229.42" x2="229.42" y1="230.54" y2="335.24" class="gmaj"/>
<line x1="241.25" x2="241.25" y1="230.54" y2="335.24" class="gmaj"/>
<line x1="253.08" x2="253.08" y1="230.54" y2="335.24" class="gmaj"/>
<line x1="264.91" x2="264.91" y1="230.54" y2="335.24" class="gmaj"/>
<line x1="276.74" x2="276.74" y1="230.54" y2="335.24" class="gmaj"/>
<line x1="288.57" x2="288.57" y1="230.54" y2="335.24" class="gmaj"/>
<line x1="300.4" x2="300.4" y1="230.54" y2="335.24" class="gmaj"/>
<line x1="312.23" x2="312.23" y1="230.54" y2="335.24" class="gmaj"/>
<rect x="176.77" y="326.49" width="10.65" height="4.05" fill="#7CAE00"/>
<rect x="176.77" y="323.04" width="10.65" height="3.45" fill="#00BFC4"/>
<rect x="176.77" y="319.72" width="10.65" height="3.32" fill="#F8766D"/>
<rect x="176.77" y="315.64" width="10.65" height="4.09" fill="#C77CFF"/>
<rect x="188.6" y="329.04" width="10.65" height="1.5" fill="#7CAE00"/>
<rect x="188.6" y="327.77" width="10.65" height="1.28" fill="#00BFC4"/>
<rect x="188.6" y="326.49" width="10.65" height="1.28" fill="#F8766D"/>
<rect x="188.6" y="324.83" width="10.65" height="1.66" fill="#C77CFF"/>
<rect x="200.44" y="328.66" width="10.65" height="1.88" fill="#7CAE00"/>
<rect x="200.44" y="327.13" width="10.65" height="1.53" fill="#00BFC4"/>
<rect x="200.44" y="325.85" width="10.65" height="1.28" fill="#F8766D"/>
<rect x="200.44" y="323.94" width="10.65" height="1.91" fill="#C77CFF"/>
<rect x="212.27" y="328.66" width="10.65" height="1.88" fill="#7CAE00"/>
<rect x="212.27" y="327.38" width="10.65" height="1.28" fill="#00BFC4"/>
<rect x="212.27" y="326.11" width="10.65" height="1.28" fill="#F8766D"/>
<rect x="212.27" y="324.32" width="10.65" height="1.79" fill="#C77CFF"/>
<rect x="224.1" y="328.66" width="10.65" height="1.88" fill="#7CAE00"/>
<rect x="224.1" y="327.38" width="10.65" height="1.28" fill="#00BFC4"/>
<rect x="224.1" y="326.11" width="10.65" height="1.28" fill="#F8766D"/>
<rect x="224.1" y="324.32" width="10.65" height="1.79" fill="#C77CFF"/>
<rect x="235.93" y="327.13" width="10.65" height="3.41" fill="#7CAE00"/>
<rect x="235.93" y="325.21" width="10.65" height="1.91" fill="#00BFC4"/>
<rect x="235.93" y="323.3" width="10.65" height="1.91" fill="#F8766D"/>
<rect x="235.93" y="320.49" width="10.65" height="2.81" fill="#C77CFF"/>
<rect x="247.76" y="328.15" width="10.65" height="2.39" fill="#7CAE00"/>
<rect x="247.76" y="326.11" width="10.65" height="2.04" fill="#00BFC4"/>
<rect x="247.76" y="324.19" width="10.65" height="1.91" fill="#F8766D"/>
<rect x="247.76" y="321.13" width="10.65" height="3.06" fill="#C77CFF"/>
<rect x="259.59" y="328.15" width="10.65" height="2.39" fill="#7CAE00"/>
<rect x="259.59" y="326.11" width="10.65" height="2.04" fill="#00BFC4"/>
<rect x="259.59" y="324.19" width="10.65" height="1.91" fill="#F8766D"/>
<rect x="259.59" y="321.13" width="10.65" height="3.06" fill="#C77CFF"/>
<rect x="271.42" y="329.04" width="10.65" height="1.5" fill="#7CAE00"/>
<rect x="271.42" y="327.77" width="10.65" height="1.28" fill="#00BFC4"/>
<rect x="271.42" y="326.11" width="10.65" height="1.66" fill="#F8766D"/>
<rect x="271.42" y="323.3" width="10.65" height="2.81" fill="#C77CFF"/>
<rect x="283.25" y="327.77" width="10.65" height="2.77" fill="#7CAE00"/>
<rect x="283.25" y="325.47" width="10.65" height="2.3" fill="#00BFC4"/>
<rect x="283.25" y="323.3" width="10.65" height="2.17" fill="#F8766D"/>
<rect x="283.25" y="318.83" width="10.65" height="4.47" fill="#C77CFF"/>
<rect x="295.08" y="326.49" width="10.65" height="4.05" fill="#7CAE00"/>
<rect x="295.08" y="320.75" width="10.65" height="5.74" fill="#00BFC4"/>
<rect x="295.08" y="317.17" width="10.65" height="3.57" fill="#F8766D"/>
<rect x="295.08" y="312.19" width="10.65" height="4.98" fill="#C77CFF"/>
<rect x="306.91" y="325.6" width="10.65" height="4.94" fill="#7CAE00"/>
<rect x="306.91" y="309" width="10.65" height="16.6" fill="#00BFC4"/>
<rect x="306.91" y="297.38" width="10.65" height="11.62" fill="#F8766D"/>
<rect x="306.91" y="289.09" width="10.65" height="8.3" fill="#C77CFF"/>
<rect x="323.75" y="230.54" width="144.33" height="104.7" fill="#EBEBEB"/>
<line x1="323.75" x2="468.08" y1="313.62" y2="313.62" class="gmin"/>
<line x1="323.75" x2="468.08" y1="279.77" y2="279.77" class="gmin"/>
<line x1="323.75" x2="468.08" y1="245.92" y2="245.92" class="gmin"/>
<line x1="323.75" x2="468.08" y1="330.54" y2="330.54" class="gmaj"/>
<line x1="323.75" x2="468.08" y1="296.69" y2="296.69" class="gmaj"/>
<line x1="323.75" x2="468.08" y1="262.84" y2="262.84" class="gmaj"/>
<line x1="330.85" x2="330.85" y1="230.54" y2="335.24" class="gmaj"/>
<line x1="342.68" x2="342.68" y1="230.54" y2="335.24" class="gmaj"/>
<line x1="354.51" x2="354.51" y1="230.54" y2="335.24" class="gmaj"/>
<line x1="366.34" x2="366.34" y1="230.54" y2="335.24" class="gmaj"/>
<line x1="378.17" x2="378.17" y1="230.54" y2="335.24" class="gmaj"/>
<line x1="390" x2="390" y1="230.54" y2="335.24" class="gmaj"/>
<line x1="401.83" x2="401.83" y1="230.54" y2="335.24" class="gmaj"/>
<line x1="413.66" x2="413.66" y1="230.54" y2="335.24" class="gmaj"/>
<line x1="425.49" x2="425.49" y1="230.54" y2="335.24" class="gmaj"/>
<line x1="437.32" x2="437.32" y1="230.54" y2="335.24" class="gmaj"/>
<line x1="449.15" x2="449.15" y1="230.54" y2="335.24" class="gmaj"/>
<line x1="460.98" x2="460.98" y1="230.54" y2="335.24" class="gmaj"/>
<rect x="325.52" y="325.21" width="10.65" height="5.33" fill="#7CAE00"/>
<rect x="325.52" y="320.75" width="10.65" height="4.47" fill="#00BFC4"/>
<rect x="325.52" y="316.02" width="10.65" height="4.72" fill="#F8766D"/>
<rect x="325.52" y="310.79" width="10.65" height="5.23" fill="#C77CFF"/>
<rect x="337.35" y="328.02" width="10.65" height="2.52" fill="#7CAE00"/>
<rect x="337.35" y="325.6" width="10.65" height="2.43" fill="#00BFC4"/>
<rect x="337.35" y="323.3" width="10.65" height="2.3" fill="#F8766D"/>
<rect x="337.35" y="320.36" width="10.65" height="2.94" fill="#C77CFF"/>
<rect x="349.19" y="328.02" width="10.65" height="2.52" fill="#7CAE00"/>
<rect x="349.19" y="325.6" width="10.65" height="2.43" fill="#00BFC4"/>
<rect x="349.19" y="323.04" width="10.65" height="2.55" fill="#F8766D"/>
<rect x="349.19" y="320.11" width="10.65" height="2.94" fill="#C77CFF"/>
<rect x="361.02" y="328.02" width="10.65" height="2.52" fill="#7CAE00"/>
<rect x="361.02" y="325.6" width="10.65" height="2.43" fill="#00BFC4"/>
<rect x="361.02" y="323.3" width="10.65" height="2.3" fill="#F8766D"/>
<rect x="361.02" y="320.36" width="10.65" height="2.94" fill="#C77CFF"/>
<rect x="372.85" y="328.02" width="10.65" height="2.52" fill="#7CAE00"/>
<rect x="372.85" y="325.6" width="10.65" height="2.43" fill="#00BFC4"/>
<rect x="372.85" y="323.3" width="10.65" height="2.3" fill="#F8766D"/>
<rect x="372.85" y="320.36" width="10.65" height="2.94" fill="#C77CFF"/>
<rect x="384.68" y="326.87" width="10.65" height="3.67" fill="#7CAE00"/>
<rect x="384.68" y="323.94" width="10.65" height="2.94" fill="#00BFC4"/>
<rect x="384.68" y="320.75" width="10.65" height="3.19" fill="#F8766D"/>
<rect x="384.68" y="316.92" width="10.65" height="3.83" fill="#C77CFF"/>
<rect x="396.51" y="327.09" width="10.65" height="3.45" fill="#7CAE00"/>
<rect x="396.51" y="323.9" width="10.65" height="3.19" fill="#00BFC4"/>
<rect x="396.51" y="321.21" width="10.65" height="2.68" fill="#F8766D"/>
<rect x="396.51" y="317.77" width="10.65" height="3.45" fill="#C77CFF"/>
<rect x="408.34" y="327.09" width="10.65" height="3.45" fill="#7CAE00"/>
<rect x="408.34" y="323.9" width="10.65" height="3.19" fill="#00BFC4"/>
<rect x="408.34" y="321.21" width="10.65" height="2.68" fill="#F8766D"/>
<rect x="408.34" y="317.77" width="10.65" height="3.45" fill="#C77CFF"/>
<rect x="420.17" y="327.6" width="10.65" height="2.94" fill="#7CAE00"/>
<rect x="420.17" y="325.17" width="10.65" height="2.43" fill="#00BFC4"/>
<rect x="420.17" y="322.49" width="10.65" height="2.68" fill="#F8766D"/>
<rect x="420.17" y="318.79" width="10.65" height="3.7" fill="#C77CFF"/>
<rect x="432" y="325.81" width="10.65" height="4.73" fill="#7CAE00"/>
<rect x="432" y="321.98" width="10.65" height="3.83" fill="#00BFC4"/>
<rect x="432" y="318.15" width="10.65" height="3.83" fill="#F8766D"/>
<rect x="432" y="313.94" width="10.65" height="4.21" fill="#C77CFF"/>
<rect x="443.83" y="324.53" width="10.65" height="6.01" fill="#7CAE00"/>
<rect x="443.83" y="319.43" width="10.65" height="5.11" fill="#00BFC4"/>
<rect x="443.83" y="314.96" width="10.65" height="4.47" fill="#F8766D"/>
<rect x="443.83" y="307.81" width="10.65" height="7.15" fill="#C77CFF"/>
<rect x="455.66" y="322.24" width="10.65" height="8.3" fill="#7CAE00"/>
<rect x="455.66" y="303.09" width="10.65" height="19.15" fill="#00BFC4"/>
<rect x="455.66" y="290.7" width="10.65" height="12.38" fill="#F8766D"/>
<rect x="455.66" y="282.92" width="10.65" height="7.79" fill="#C77CFF"/>
<text class="yt" text-anchor="end" transform="translate(22.5 334.04) scale(1,1.15)">0</text>
<line x1="24.4" x2="26.45" y1="330.54" y2="330.54" class="tk"/>
<text class="yt" text-anchor="end" transform="translate(22.5 300.19) scale(1,1.15)">5</text>
<line x1="24.4" x2="26.45" y1="296.69" y2="296.69" class="tk"/>
<text class="yt" text-anchor="end" transform="translate(22.5 266.34) scale(1,1.15)">10</text>
<line x1="24.4" x2="26.45" y1="262.84" y2="262.84" class="tk"/>
<rect x="468.08" y="338.81" width="14.4" height="104.7" fill="#D9D9D9"/>
<text x="472.08" y="391.16" class="st" text-anchor="middle" transform="rotate(90 472.08 391.16)">Temp.DU</text>
<rect x="26.45" y="338.81" width="144.33" height="104.7" fill="#EBEBEB"/>
<line x1="26.45" x2="170.78" y1="421.88" y2="421.88" class="gmin"/>
<line x1="26.45" x2="170.78" y1="388.04" y2="388.04" class="gmin"/>
<line x1="26.45" x2="170.78" y1="354.19" y2="354.19" class="gmin"/>
<line x1="26.45" x2="170.78" y1="438.81" y2="438.81" class="gmaj"/>
<line x1="26.45" x2="170.78" y1="404.96" y2="404.96" class="gmaj"/>
<line x1="26.45" x2="170.78" y1="371.11" y2="371.11" class="gmaj"/>
<line x1="33.55" x2="33.55" y1="338.81" y2="443.51" class="gmaj"/>
<line x1="45.38" x2="45.38" y1="338.81" y2="443.51" class="gmaj"/>
<line x1="57.21" x2="57.21" y1="338.81" y2="443.51" class="gmaj"/>
<line x1="69.04" x2="69.04" y1="338.81" y2="443.51" class="gmaj"/>
<line x1="80.87" x2="80.87" y1="338.81" y2="443.51" class="gmaj"/>
<line x1="92.7" x2="92.7" y1="338.81" y2="443.51" class="gmaj"/>
<line x1="104.53" x2="104.53" y1="338.81" y2="443.51" class="gmaj"/>
<line x1="116.36" x2="116.36" y1="338.81" y2="443.51" class="gmaj"/>
<line x1="128.19" x2="128.19" y1="338.81" y2="443.51" class="gmaj"/>
<line x1="140.02" x2="140.02" y1="338.81" y2="443.51" class="gmaj"/>
<line x1="151.85" x2="151.85" y1="338.81" y2="443.51" class="gmaj"/>
<line x1="163.68" x2="163.68" y1="338.81" y2="443.51" class="gmaj"/>
<rect x="28.22" y="434.83" width="10.65" height="3.98" fill="#7CAE00"/>
<rect x="28.22" y="430.75" width="10.65" height="4.09" fill="#00BFC4"/>
<rect x="28.22" y="426.92" width="10.65" height="3.83" fill="#F8766D"/>
<rect x="28.22" y="423.72" width="10.65" height="3.19" fill="#C77CFF"/>
<rect x="40.05" y="436.87" width="10.65" height="1.94" fill="#7CAE00"/>
<rect x="40.05" y="434.58" width="10.65" height="2.3" fill="#00BFC4"/>
<rect x="40.05" y="432.66" width="10.65" height="1.91" fill="#F8766D"/>
<rect x="40.05" y="431.13" width="10.65" height="1.53" fill="#C77CFF"/>
<rect x="51.89" y="435.21" width="10.65" height="3.6" fill="#7CAE00"/>
<rect x="51.89" y="431.38" width="10.65" height="3.83" fill="#00BFC4"/>
<rect x="51.89" y="428.83" width="10.65" height="2.55" fill="#F8766D"/>
<rect x="51.89" y="426.66" width="10.65" height="2.17" fill="#C77CFF"/>
<rect x="63.72" y="436.87" width="10.65" height="1.94" fill="#7CAE00"/>
<rect x="63.72" y="434.32" width="10.65" height="2.55" fill="#00BFC4"/>
<rect x="63.72" y="432.41" width="10.65" height="1.91" fill="#F8766D"/>
<rect x="63.72" y="431" width="10.65" height="1.4" fill="#C77CFF"/>
<rect x="75.55" y="435.6" width="10.65" height="3.21" fill="#7CAE00"/>
<rect x="75.55" y="432.28" width="10.65" height="3.32" fill="#00BFC4"/>
<rect x="75.55" y="430.11" width="10.65" height="2.17" fill="#F8766D"/>
<rect x="75.55" y="427.81" width="10.65" height="2.3" fill="#C77CFF"/>
<rect x="87.38" y="437.13" width="10.65" height="1.68" fill="#7CAE00"/>
<rect x="87.38" y="435.6" width="10.65" height="1.53" fill="#00BFC4"/>
<rect x="87.38" y="433.94" width="10.65" height="1.66" fill="#F8766D"/>
<rect x="87.38" y="432.02" width="10.65" height="1.91" fill="#C77CFF"/>
<rect x="99.21" y="435.85" width="10.65" height="2.96" fill="#7CAE00"/>
<rect x="99.21" y="432.28" width="10.65" height="3.57" fill="#00BFC4"/>
<rect x="99.21" y="430.11" width="10.65" height="2.17" fill="#F8766D"/>
<rect x="99.21" y="428.19" width="10.65" height="1.91" fill="#C77CFF"/>
<rect x="111.04" y="435.85" width="10.65" height="2.96" fill="#7CAE00"/>
<rect x="111.04" y="432.28" width="10.65" height="3.57" fill="#00BFC4"/>
<rect x="111.04" y="430.11" width="10.65" height="2.17" fill="#F8766D"/>
<rect x="111.04" y="428.19" width="10.65" height="1.91" fill="#C77CFF"/>
<rect x="122.87" y="436.87" width="10.65" height="1.94" fill="#7CAE00"/>
<rect x="122.87" y="434.32" width="10.65" height="2.55" fill="#00BFC4"/>
<rect x="122.87" y="432.28" width="10.65" height="2.04" fill="#F8766D"/>
<rect x="122.87" y="430.11" width="10.65" height="2.17" fill="#C77CFF"/>
<rect x="134.7" y="434.32" width="10.65" height="4.49" fill="#7CAE00"/>
<rect x="134.7" y="429.21" width="10.65" height="5.11" fill="#00BFC4"/>
<rect x="134.7" y="426.28" width="10.65" height="2.94" fill="#F8766D"/>
<rect x="134.7" y="424.36" width="10.65" height="1.91" fill="#C77CFF"/>
<rect x="146.53" y="432.28" width="10.65" height="6.53" fill="#7CAE00"/>
<rect x="146.53" y="425.64" width="10.65" height="6.64" fill="#00BFC4"/>
<rect x="146.53" y="420.92" width="10.65" height="4.72" fill="#F8766D"/>
<rect x="146.53" y="417.98" width="10.65" height="2.94" fill="#C77CFF"/>
<rect x="158.36" y="433.94" width="10.65" height="4.87" fill="#7CAE00"/>
<rect x="158.36" y="427.94" width="10.65" height="6" fill="#00BFC4"/>
<rect x="158.36" y="422.19" width="10.65" height="5.74" fill="#F8766D"/>
<rect x="158.36" y="419.51" width="10.65" height="2.68" fill="#C77CFF"/>
<rect x="175" y="338.81" width="144.33" height="104.7" fill="#EBEBEB"/>
<line x1="175" x2="319.33" y1="421.88" y2="421.88" class="gmin"/>
<line x1="175" x2="319.33" y1="388.04" y2="388.04" class="gmin"/>
<line x1="175" x2="319.33" y1="354.19" y2="354.19" class="gmin"/>
<line x1="175" x2="319.33" y1="438.81" y2="438.81" class="gmaj"/>
<line x1="175" x2="319.33" y1="404.96" y2="404.96" class="gmaj"/>
<line x1="175" x2="319.33" y1="371.11" y2="371.11" class="gmaj"/>
<line x1="182.1" x2="182.1" y1="338.81" y2="443.51" class="gmaj"/>
<line x1="193.93" x2="193.93" y1="338.81" y2="443.51" class="gmaj"/>
<line x1="205.76" x2="205.76" y1="338.81" y2="443.51" class="gmaj"/>
<line x1="217.59" x2="217.59" y1="338.81" y2="443.51" class="gmaj"/>
<line x1="229.42" x2="229.42" y1="338.81" y2="443.51" class="gmaj"/>
<line x1="241.25" x2="241.25" y1="338.81" y2="443.51" class="gmaj"/>
<line x1="253.08" x2="253.08" y1="338.81" y2="443.51" class="gmaj"/>
<line x1="264.91" x2="264.91" y1="338.81" y2="443.51" class="gmaj"/>
<line x1="276.74" x2="276.74" y1="338.81" y2="443.51" class="gmaj"/>
<line x1="288.57" x2="288.57" y1="338.81" y2="443.51" class="gmaj"/>
<line x1="300.4" x2="300.4" y1="338.81" y2="443.51" class="gmaj"/>
<line x1="312.23" x2="312.23" y1="338.81" y2="443.51" class="gmaj"/>
<rect x="176.77" y="435.6" width="10.65" height="3.21" fill="#7CAE00"/>
<rect x="176.77" y="432.02" width="10.65" height="3.57" fill="#00BFC4"/>
<rect x="176.77" y="429.47" width="10.65" height="2.55" fill="#F8766D"/>
<rect x="176.77" y="427.17" width="10.65" height="2.3" fill="#C77CFF"/>
<rect x="188.6" y="436.11" width="10.65" height="2.7" fill="#7CAE00"/>
<rect x="188.6" y="433.04" width="10.65" height="3.06" fill="#00BFC4"/>
<rect x="188.6" y="431" width="10.65" height="2.04" fill="#F8766D"/>
<rect x="188.6" y="428.58" width="10.65" height="2.43" fill="#C77CFF"/>
<rect x="200.44" y="436.11" width="10.65" height="2.7" fill="#7CAE00"/>
<rect x="200.44" y="432.66" width="10.65" height="3.45" fill="#00BFC4"/>
<rect x="200.44" y="430.49" width="10.65" height="2.17" fill="#F8766D"/>
<rect x="200.44" y="428.19" width="10.65" height="2.3" fill="#C77CFF"/>
<rect x="212.27" y="436.87" width="10.65" height="1.94" fill="#7CAE00"/>
<rect x="212.27" y="434.58" width="10.65" height="2.3" fill="#00BFC4"/>
<rect x="212.27" y="432.92" width="10.65" height="1.66" fill="#F8766D"/>
<rect x="212.27" y="430.75" width="10.65" height="2.17" fill="#C77CFF"/>
<rect x="224.1" y="434.32" width="10.65" height="4.49" fill="#7CAE00"/>
<rect x="224.1" y="429.72" width="10.65" height="4.6" fill="#00BFC4"/>
<rect x="224.1" y="426.28" width="10.65" height="3.45" fill="#F8766D"/>
<rect x="224.1" y="422.45" width="10.65" height="3.83" fill="#C77CFF"/>
<rect x="235.93" y="434.96" width="10.65" height="3.85" fill="#7CAE00"/>
<rect x="235.93" y="432.02" width="10.65" height="2.94" fill="#00BFC4"/>
<rect x="235.93" y="429.72" width="10.65" height="2.3" fill="#F8766D"/>
<rect x="235.93" y="426.28" width="10.65" height="3.45" fill="#C77CFF"/>
<rect x="247.76" y="433.94" width="10.65" height="4.87" fill="#7CAE00"/>
<rect x="247.76" y="427.94" width="10.65" height="6" fill="#00BFC4"/>
<rect x="247.76" y="425" width="10.65" height="2.94" fill="#F8766D"/>
<rect x="247.76" y="421.81" width="10.65" height="3.19" fill="#C77CFF"/>
<rect x="259.59" y="433.94" width="10.65" height="4.87" fill="#7CAE00"/>
<rect x="259.59" y="427.94" width="10.65" height="6" fill="#00BFC4"/>
<rect x="259.59" y="425" width="10.65" height="2.94" fill="#F8766D"/>
<rect x="259.59" y="421.81" width="10.65" height="3.19" fill="#C77CFF"/>
<rect x="271.42" y="434.96" width="10.65" height="3.85" fill="#7CAE00"/>
<rect x="271.42" y="430.36" width="10.65" height="4.6" fill="#00BFC4"/>
<rect x="271.42" y="427.81" width="10.65" height="2.55" fill="#F8766D"/>
<rect x="271.42" y="425.38" width="10.65" height="2.43" fill="#C77CFF"/>
<rect x="283.25" y="431.77" width="10.65" height="7.04" fill="#7CAE00"/>
<rect x="283.25" y="424.36" width="10.65" height="7.4" fill="#00BFC4"/>
<rect x="283.25" y="419.89" width="10.65" height="4.47" fill="#F8766D"/>
<rect x="283.25" y="414.79" width="10.65" height="5.11" fill="#C77CFF"/>
<rect x="295.08" y="433.94" width="10.65" height="4.87" fill="#7CAE00"/>
<rect x="295.08" y="427.94" width="10.65" height="6" fill="#00BFC4"/>
<rect x="295.08" y="423.98" width="10.65" height="3.96" fill="#F8766D"/>
<rect x="295.08" y="421.17" width="10.65" height="2.81" fill="#C77CFF"/>
<rect x="306.91" y="434.58" width="10.65" height="4.23" fill="#7CAE00"/>
<rect x="306.91" y="427.17" width="10.65" height="7.4" fill="#00BFC4"/>
<rect x="306.91" y="421.43" width="10.65" height="5.74" fill="#F8766D"/>
<rect x="306.91" y="417.34" width="10.65" height="4.09" fill="#C77CFF"/>
<rect x="323.75" y="338.81" width="144.33" height="104.7" fill="#EBEBEB"/>
<line x1="323.75" x2="468.08" y1="421.88" y2="421.88" class="gmin"/>
<line x1="323.75" x2="468.08" y1="388.04" y2="388.04" class="gmin"/>
<line x1="323.75" x2="468.08" y1="354.19" y2="354.19" class="gmin"/>
<line x1="323.75" x2="468.08" y1="438.81" y2="438.81" class="gmaj"/>
<line x1="323.75" x2="468.08" y1="404.96" y2="404.96" class="gmaj"/>
<line x1="323.75" x2="468.08" y1="371.11" y2="371.11" class="gmaj"/>
<line x1="330.85" x2="330.85" y1="338.81" y2="443.51" class="gmaj"/>
<line x1="342.68" x2="342.68" y1="338.81" y2="443.51" class="gmaj"/>
<line x1="354.51" x2="354.51" y1="338.81" y2="443.51" class="gmaj"/>
<line x1="366.34" x2="366.34" y1="338.81" y2="443.51" class="gmaj"/>
<line x1="378.17" x2="378.17" y1="338.81" y2="443.51" class="gmaj"/>
<line x1="390" x2="390" y1="338.81" y2="443.51" class="gmaj"/>
<line x1="401.83" x2="401.83" y1="338.81" y2="443.51" class="gmaj"/>
<line x1="413.66" x2="413.66" y1="338.81" y2="443.51" class="gmaj"/>
<line x1="425.49" x2="425.49" y1="338.81" y2="443.51" class="gmaj"/>
<line x1="437.32" x2="437.32" y1="338.81" y2="443.51" class="gmaj"/>
<line x1="449.15" x2="449.15" y1="338.81" y2="443.51" class="gmaj"/>
<line x1="460.98" x2="460.98" y1="338.81" y2="443.51" class="gmaj"/>
<rect x="325.52" y="434.32" width="10.65" height="4.49" fill="#7CAE00"/>
<rect x="325.52" y="429.09" width="10.65" height="5.23" fill="#00BFC4"/>
<rect x="325.52" y="425" width="10.65" height="4.09" fill="#F8766D"/>
<rect x="325.52" y="421.17" width="10.65" height="3.83" fill="#C77CFF"/>
<rect x="337.35" y="433.94" width="10.65" height="4.87" fill="#7CAE00"/>
<rect x="337.35" y="430.11" width="10.65" height="3.83" fill="#00BFC4"/>
<rect x="337.35" y="426.02" width="10.65" height="4.09" fill="#F8766D"/>
<rect x="337.35" y="421.17" width="10.65" height="4.85" fill="#C77CFF"/>
<rect x="349.19" y="435.21" width="10.65" height="3.6" fill="#7CAE00"/>
<rect x="349.19" y="431.38" width="10.65" height="3.83" fill="#00BFC4"/>
<rect x="349.19" y="427.55" width="10.65" height="3.83" fill="#F8766D"/>
<rect x="349.19" y="423.72" width="10.65" height="3.83" fill="#C77CFF"/>
<rect x="361.02" y="434.96" width="10.65" height="3.85" fill="#7CAE00"/>
<rect x="361.02" y="431.38" width="10.65" height="3.57" fill="#00BFC4"/>
<rect x="361.02" y="427.94" width="10.65" height="3.45" fill="#F8766D"/>
<rect x="361.02" y="423.34" width="10.65" height="4.6" fill="#C77CFF"/>
<rect x="372.85" y="433.68" width="10.65" height="5.13" fill="#7CAE00"/>
<rect x="372.85" y="428.19" width="10.65" height="5.49" fill="#00BFC4"/>
<rect x="372.85" y="423.09" width="10.65" height="5.11" fill="#F8766D"/>
<rect x="372.85" y="417.34" width="10.65" height="5.74" fill="#C77CFF"/>
<rect x="384.68" y="433.68" width="10.65" height="5.13" fill="#7CAE00"/>
<rect x="384.68" y="429.21" width="10.65" height="4.47" fill="#00BFC4"/>
<rect x="384.68" y="425.26" width="10.65" height="3.96" fill="#F8766D"/>
<rect x="384.68" y="420.28" width="10.65" height="4.98" fill="#C77CFF"/>
<rect x="396.51" y="429.72" width="10.65" height="9.09" fill="#7CAE00"/>
<rect x="396.51" y="419.89" width="10.65" height="9.83" fill="#00BFC4"/>
<rect x="396.51" y="411.98" width="10.65" height="7.92" fill="#F8766D"/>
<rect x="396.51" y="405.6" width="10.65" height="6.38" fill="#C77CFF"/>
<rect x="408.34" y="429.72" width="10.65" height="9.09" fill="#7CAE00"/>
<rect x="408.34" y="419.89" width="10.65" height="9.83" fill="#00BFC4"/>
<rect x="408.34" y="411.98" width="10.65" height="7.92" fill="#F8766D"/>
<rect x="408.34" y="405.6" width="10.65" height="6.38" fill="#C77CFF"/>
<rect x="420.17" y="433.55" width="10.65" height="5.26" fill="#7CAE00"/>
<rect x="420.17" y="427.55" width="10.65" height="6" fill="#00BFC4"/>
<rect x="420.17" y="422.19" width="10.65" height="5.36" fill="#F8766D"/>
<rect x="420.17" y="417.98" width="10.65" height="4.21" fill="#C77CFF"/>
<rect x="432" y="428.58" width="10.65" height="10.23" fill="#7CAE00"/>
<rect x="432" y="417.98" width="10.65" height="10.6" fill="#00BFC4"/>
<rect x="432" y="409.04" width="10.65" height="8.94" fill="#F8766D"/>
<rect x="432" y="402.4" width="10.65" height="6.64" fill="#C77CFF"/>
<rect x="443.83" y="433.94" width="10.65" height="4.87" fill="#7CAE00"/>
<rect x="443.83" y="428.83" width="10.65" height="5.11" fill="#00BFC4"/>
<rect x="443.83" y="424.36" width="10.65" height="4.47" fill="#F8766D"/>
<rect x="443.83" y="420.15" width="10.65" height="4.21" fill="#C77CFF"/>
<rect x="455.66" y="433.3" width="10.65" height="5.51" fill="#7CAE00"/>
<rect x="455.66" y="425" width="10.65" height="8.3" fill="#00BFC4"/>
<rect x="455.66" y="417.98" width="10.65" height="7.02" fill="#F8766D"/>
<rect x="455.66" y="413.26" width="10.65" height="4.72" fill="#C77CFF"/>
<text class="yt" text-anchor="end" transform="translate(22.5 442.31) scale(1,1.15)">0</text>
<line x1="24.4" x2="26.45" y1="438.81" y2="438.81" class="tk"/>
<text class="yt" text-anchor="end" transform="translate(22.5 408.46) scale(1,1.15)">5</text>
<line x1="24.4" x2="26.45" y1="404.96" y2="404.96" class="tk"/>
<text class="yt" text-anchor="end" transform="translate(22.5 374.61) scale(1,1.15)">10</text>
<line x1="24.4" x2="26.45" y1="371.11" y2="371.11" class="tk"/>
<line x1="33.55" x2="33.55" y1="443.51" y2="445.91" class="tk"/>
<text class="yt" text-anchor="end" transform="translate(36.55 447.2) rotate(-90) scale(1,1.1)">CCLM.CMAQ</text>
<line x1="45.38" x2="45.38" y1="443.51" y2="445.91" class="tk"/>
<text class="yt" text-anchor="end" transform="translate(48.38 447.2) rotate(-90) scale(1,1.1)">ECMWF.Chimere</text>
<line x1="57.21" x2="57.21" y1="443.51" y2="445.91" class="tk"/>
<text class="yt" text-anchor="end" transform="translate(60.21 447.2) rotate(-90) scale(1,1.1)">ECMWF.L..EUROS</text>
<line x1="69.04" x2="69.04" y1="443.51" y2="445.91" class="tk"/>
<text class="yt" text-anchor="end" transform="translate(72.04 447.2) rotate(-90) scale(1,1.1)">ECMWF.SILAM_H</text>
<line x1="80.87" x2="80.87" y1="443.51" y2="445.91" class="tk"/>
<text class="yt" text-anchor="end" transform="translate(83.87 447.2) rotate(-90) scale(1,1.1)">WRF.CAMx</text>
<line x1="92.7" x2="92.7" y1="443.51" y2="445.91" class="tk"/>
<text class="yt" text-anchor="end" transform="translate(95.7 447.2) rotate(-90) scale(1,1.1)">WRF.CMAQ_1</text>
<line x1="104.53" x2="104.53" y1="443.51" y2="445.91" class="tk"/>
<text class="yt" text-anchor="end" transform="translate(107.53 447.2) rotate(-90) scale(1,1.1)">WRF.CMAQ_2</text>
<line x1="116.36" x2="116.36" y1="443.51" y2="445.91" class="tk"/>
<text class="yt" text-anchor="end" transform="translate(119.36 447.2) rotate(-90) scale(1,1.1)">WRF.CMAQ_3</text>
<line x1="128.19" x2="128.19" y1="443.51" y2="445.91" class="tk"/>
<text class="yt" text-anchor="end" transform="translate(131.19 447.2) rotate(-90) scale(1,1.1)">WRF.CMAQ_4</text>
<line x1="140.02" x2="140.02" y1="443.51" y2="445.91" class="tk"/>
<text class="yt" text-anchor="end" transform="translate(143.02 447.2) rotate(-90) scale(1,1.1)">WRF.DEHM</text>
<line x1="151.85" x2="151.85" y1="443.51" y2="445.91" class="tk"/>
<text class="yt" text-anchor="end" transform="translate(154.85 447.2) rotate(-90) scale(1,1.1)">WRF.WRF.Chem_1</text>
<line x1="163.68" x2="163.68" y1="443.51" y2="445.91" class="tk"/>
<text class="yt" text-anchor="end" transform="translate(166.68 447.2) rotate(-90) scale(1,1.1)">WRF.WRF.Chem_2</text>
<line x1="182.1" x2="182.1" y1="443.51" y2="445.91" class="tk"/>
<text class="yt" text-anchor="end" transform="translate(185.1 447.2) rotate(-90) scale(1,1.1)">CCLM.CMAQ</text>
<line x1="193.93" x2="193.93" y1="443.51" y2="445.91" class="tk"/>
<text class="yt" text-anchor="end" transform="translate(196.93 447.2) rotate(-90) scale(1,1.1)">ECMWF.Chimere</text>
<line x1="205.76" x2="205.76" y1="443.51" y2="445.91" class="tk"/>
<text class="yt" text-anchor="end" transform="translate(208.76 447.2) rotate(-90) scale(1,1.1)">ECMWF.L..EUROS</text>
<line x1="217.59" x2="217.59" y1="443.51" y2="445.91" class="tk"/>
<text class="yt" text-anchor="end" transform="translate(220.59 447.2) rotate(-90) scale(1,1.1)">ECMWF.SILAM_H</text>
<line x1="229.42" x2="229.42" y1="443.51" y2="445.91" class="tk"/>
<text class="yt" text-anchor="end" transform="translate(232.42 447.2) rotate(-90) scale(1,1.1)">WRF.CAMx</text>
<line x1="241.25" x2="241.25" y1="443.51" y2="445.91" class="tk"/>
<text class="yt" text-anchor="end" transform="translate(244.25 447.2) rotate(-90) scale(1,1.1)">WRF.CMAQ_1</text>
<line x1="253.08" x2="253.08" y1="443.51" y2="445.91" class="tk"/>
<text class="yt" text-anchor="end" transform="translate(256.08 447.2) rotate(-90) scale(1,1.1)">WRF.CMAQ_2</text>
<line x1="264.91" x2="264.91" y1="443.51" y2="445.91" class="tk"/>
<text class="yt" text-anchor="end" transform="translate(267.91 447.2) rotate(-90) scale(1,1.1)">WRF.CMAQ_3</text>
<line x1="276.74" x2="276.74" y1="443.51" y2="445.91" class="tk"/>
<text class="yt" text-anchor="end" transform="translate(279.74 447.2) rotate(-90) scale(1,1.1)">WRF.CMAQ_4</text>
<line x1="288.57" x2="288.57" y1="443.51" y2="445.91" class="tk"/>
<text class="yt" text-anchor="end" transform="translate(291.57 447.2) rotate(-90) scale(1,1.1)">WRF.DEHM</text>
<line x1="300.4" x2="300.4" y1="443.51" y2="445.91" class="tk"/>
<text class="yt" text-anchor="end" transform="translate(303.4 447.2) rotate(-90) scale(1,1.1)">WRF.WRF.Chem_1</text>
<line x1="312.23" x2="312.23" y1="443.51" y2="445.91" class="tk"/>
<text class="yt" text-anchor="end" transform="translate(315.23 447.2) rotate(-90) scale(1,1.1)">WRF.WRF.Chem_2</text>
<line x1="330.85" x2="330.85" y1="443.51" y2="445.91" class="tk"/>
<text class="yt" text-anchor="end" transform="translate(333.85 447.2) rotate(-90) scale(1,1.1)">CCLM.CMAQ</text>
<line x1="342.68" x2="342.68" y1="443.51" y2="445.91" class="tk"/>
<text class="yt" text-anchor="end" transform="translate(345.68 447.2) rotate(-90) scale(1,1.1)">ECMWF.Chimere</text>
<line x1="354.51" x2="354.51" y1="443.51" y2="445.91" class="tk"/>
<text class="yt" text-anchor="end" transform="translate(357.51 447.2) rotate(-90) scale(1,1.1)">ECMWF.L..EUROS</text>
<line x1="366.34" x2="366.34" y1="443.51" y2="445.91" class="tk"/>
<text class="yt" text-anchor="end" transform="translate(369.34 447.2) rotate(-90) scale(1,1.1)">ECMWF.SILAM_H</text>
<line x1="378.17" x2="378.17" y1="443.51" y2="445.91" class="tk"/>
<text class="yt" text-anchor="end" transform="translate(381.17 447.2) rotate(-90) scale(1,1.1)">WRF.CAMx</text>
<line x1="390" x2="390" y1="443.51" y2="445.91" class="tk"/>
<text class="yt" text-anchor="end" transform="translate(393 447.2) rotate(-90) scale(1,1.1)">WRF.CMAQ_1</text>
<line x1="401.83" x2="401.83" y1="443.51" y2="445.91" class="tk"/>
<text class="yt" text-anchor="end" transform="translate(404.83 447.2) rotate(-90) scale(1,1.1)">WRF.CMAQ_2</text>
<line x1="413.66" x2="413.66" y1="443.51" y2="445.91" class="tk"/>
<text class="yt" text-anchor="end" transform="translate(416.66 447.2) rotate(-90) scale(1,1.1)">WRF.CMAQ_3</text>
<line x1="425.49" x2="425.49" y1="443.51" y2="445.91" class="tk"/>
<text class="yt" text-anchor="end" transform="translate(428.49 447.2) rotate(-90) scale(1,1.1)">WRF.CMAQ_4</text>
<line x1="437.32" x2="437.32" y1="443.51" y2="445.91" class="tk"/>
<text class="yt" text-anchor="end" transform="translate(440.32 447.2) rotate(-90) scale(1,1.1)">WRF.DEHM</text>
<line x1="449.15" x2="449.15" y1="443.51" y2="445.91" class="tk"/>
<text class="yt" text-anchor="end" transform="translate(452.15 447.2) rotate(-90) scale(1,1.1)">WRF.WRF.Chem_1</text>
<line x1="460.98" x2="460.98" y1="443.51" y2="445.91" class="tk"/>
<text class="yt" text-anchor="end" transform="translate(463.98 447.2) rotate(-90) scale(1,1.1)">WRF.WRF.Chem_2</text>
<text x="9.6" y="229" class="ttl" text-anchor="middle" transform="rotate(-90 9.6 229)">K</text>
<text x="492.4" y="206.4" class="lt">Season</text>
<rect x="493.3" y="209.9" width="12.2" height="10.8" fill="#F8766D"/>
<text x="508.3" y="218.3" class="lab" style="font-size:8.3px">Autumn (SON)</text>
<rect x="493.3" y="222" width="12.2" height="10.8" fill="#7CAE00"/>
<text x="508.3" y="230.4" class="lab" style="font-size:8.3px">Spring (MAM)</text>
<rect x="493.3" y="234.1" width="12.2" height="10.8" fill="#00BFC4"/>
<text x="508.3" y="242.5" class="lab" style="font-size:8.3px">Summer (JJA)</text>
<rect x="493.3" y="246.2" width="12.2" height="10.8" fill="#C77CFF"/>
<text x="508.3" y="254.6" class="lab" style="font-size:8.3px">Winter (DJF)</text>
<text class="tag" transform="translate(492.5 459.3) scale(0.85,1)">(a)</text>
<rect x="31.7" y="534" width="142.35" height="13.6" fill="#D9D9D9"/>
<text x="99.9" y="544.3" class="st" text-anchor="middle">Region1</text>
<rect x="178.2" y="534" width="142.35" height="13.6" fill="#D9D9D9"/>
<text x="249.8" y="544.3" class="st" text-anchor="middle">Region2</text>
<rect x="324.5" y="534" width="142.35" height="13.6" fill="#D9D9D9"/>
<text x="395.5" y="544.3" class="st" text-anchor="middle">Region3</text>
<rect x="466.85" y="547.6" width="14.9" height="104.5" fill="#D9D9D9"/>
<text x="471.1" y="599.85" class="st" text-anchor="middle" transform="rotate(90 471.1 599.85)">WS.FT</text>
<rect x="31.7" y="547.6" width="142.35" height="104.5" fill="#EBEBEB"/>
<line x1="31.7" x2="174.05" y1="637.42" y2="637.42" class="gmin"/>
<line x1="31.7" x2="174.05" y1="617.67" y2="617.67" class="gmin"/>
<line x1="31.7" x2="174.05" y1="597.92" y2="597.92" class="gmin"/>
<line x1="31.7" x2="174.05" y1="578.17" y2="578.17" class="gmin"/>
<line x1="31.7" x2="174.05" y1="558.42" y2="558.42" class="gmin"/>
<line x1="31.7" x2="174.05" y1="647.3" y2="647.3" class="gmaj"/>
<line x1="31.7" x2="174.05" y1="627.55" y2="627.55" class="gmaj"/>
<line x1="31.7" x2="174.05" y1="607.8" y2="607.8" class="gmaj"/>
<line x1="31.7" x2="174.05" y1="588.05" y2="588.05" class="gmaj"/>
<line x1="31.7" x2="174.05" y1="568.3" y2="568.3" class="gmaj"/>
<line x1="31.7" x2="174.05" y1="548.55" y2="548.55" class="gmaj"/>
<line x1="38.7" x2="38.7" y1="547.6" y2="652.1" class="gmaj"/>
<line x1="50.37" x2="50.37" y1="547.6" y2="652.1" class="gmaj"/>
<line x1="62.04" x2="62.04" y1="547.6" y2="652.1" class="gmaj"/>
<line x1="73.7" x2="73.7" y1="547.6" y2="652.1" class="gmaj"/>
<line x1="85.37" x2="85.37" y1="547.6" y2="652.1" class="gmaj"/>
<line x1="97.04" x2="97.04" y1="547.6" y2="652.1" class="gmaj"/>
<line x1="108.71" x2="108.71" y1="547.6" y2="652.1" class="gmaj"/>
<line x1="120.38" x2="120.38" y1="547.6" y2="652.1" class="gmaj"/>
<line x1="132.05" x2="132.05" y1="547.6" y2="652.1" class="gmaj"/>
<line x1="143.71" x2="143.71" y1="547.6" y2="652.1" class="gmaj"/>
<line x1="155.38" x2="155.38" y1="547.6" y2="652.1" class="gmaj"/>
<line x1="167.05" x2="167.05" y1="547.6" y2="652.1" class="gmaj"/>
<rect x="33.45" y="641.58" width="10.5" height="5.72" fill="#7CAE00"/>
<rect x="33.45" y="636.92" width="10.5" height="4.66" fill="#00BFC4"/>
<rect x="33.45" y="629.87" width="10.5" height="7.05" fill="#F8766D"/>
<rect x="33.45" y="621.81" width="10.5" height="8.06" fill="#C77CFF"/>
<rect x="45.12" y="642.83" width="10.5" height="4.47" fill="#7CAE00"/>
<rect x="45.12" y="638.43" width="10.5" height="4.41" fill="#00BFC4"/>
<rect x="45.12" y="632.39" width="10.5" height="6.04" fill="#F8766D"/>
<rect x="45.12" y="626.09" width="10.5" height="6.29" fill="#C77CFF"/>
<rect x="56.79" y="642.21" width="10.5" height="5.09" fill="#7CAE00"/>
<rect x="56.79" y="636.92" width="10.5" height="5.29" fill="#00BFC4"/>
<rect x="56.79" y="629.87" width="10.5" height="7.05" fill="#F8766D"/>
<rect x="56.79" y="622.06" width="10.5" height="7.8" fill="#C77CFF"/>
<rect x="68.45" y="642.83" width="10.5" height="4.47" fill="#7CAE00"/>
<rect x="68.45" y="638.05" width="10.5" height="4.78" fill="#00BFC4"/>
<rect x="68.45" y="631.25" width="10.5" height="6.8" fill="#F8766D"/>
<rect x="68.45" y="623.95" width="10.5" height="7.3" fill="#C77CFF"/>
<rect x="80.12" y="638.43" width="10.5" height="8.87" fill="#7CAE00"/>
<rect x="80.12" y="628.74" width="10.5" height="9.69" fill="#00BFC4"/>
<rect x="80.12" y="615.77" width="10.5" height="12.97" fill="#F8766D"/>
<rect x="80.12" y="602.18" width="10.5" height="13.6" fill="#C77CFF"/>
<rect x="91.79" y="643.46" width="10.5" height="3.84" fill="#7CAE00"/>
<rect x="91.79" y="640.95" width="10.5" height="2.52" fill="#00BFC4"/>
<rect x="91.79" y="638.05" width="10.5" height="2.9" fill="#F8766D"/>
<rect x="91.79" y="632.39" width="10.5" height="5.66" fill="#C77CFF"/>
<rect x="103.46" y="644.09" width="10.5" height="3.21" fill="#7CAE00"/>
<rect x="103.46" y="641.2" width="10.5" height="2.9" fill="#00BFC4"/>
<rect x="103.46" y="637.8" width="10.5" height="3.4" fill="#F8766D"/>
<rect x="103.46" y="632.13" width="10.5" height="5.66" fill="#C77CFF"/>
<rect x="115.13" y="641.83" width="10.5" height="5.47" fill="#7CAE00"/>
<rect x="115.13" y="635.91" width="10.5" height="5.92" fill="#00BFC4"/>
<rect x="115.13" y="626.72" width="10.5" height="9.19" fill="#F8766D"/>
<rect x="115.13" y="617.03" width="10.5" height="9.69" fill="#C77CFF"/>
<rect x="126.79" y="644.09" width="10.5" height="3.21" fill="#7CAE00"/>
<rect x="126.79" y="641.32" width="10.5" height="2.77" fill="#00BFC4"/>
<rect x="126.79" y="637.17" width="10.5" height="4.15" fill="#F8766D"/>
<rect x="126.79" y="631.51" width="10.5" height="5.66" fill="#C77CFF"/>
<rect x="138.46" y="640.95" width="10.5" height="6.35" fill="#7CAE00"/>
<rect x="138.46" y="633.65" width="10.5" height="7.3" fill="#00BFC4"/>
<rect x="138.46" y="623.32" width="10.5" height="10.32" fill="#F8766D"/>
<rect x="138.46" y="612.62" width="10.5" height="10.7" fill="#C77CFF"/>
<rect x="150.13" y="639.69" width="10.5" height="7.61" fill="#7CAE00"/>
<rect x="150.13" y="633.02" width="10.5" height="6.67" fill="#00BFC4"/>
<rect x="150.13" y="622.95" width="10.5" height="10.07" fill="#F8766D"/>
<rect x="150.13" y="611.11" width="10.5" height="11.83" fill="#C77CFF"/>
<rect x="161.8" y="639.06" width="10.5" height="8.24" fill="#7CAE00"/>
<rect x="161.8" y="630.25" width="10.5" height="8.81" fill="#00BFC4"/>
<rect x="161.8" y="618.29" width="10.5" height="11.96" fill="#F8766D"/>
<rect x="161.8" y="605.07" width="10.5" height="13.22" fill="#C77CFF"/>
<rect x="178.2" y="547.6" width="142.35" height="104.5" fill="#EBEBEB"/>
<line x1="178.2" x2="320.55" y1="637.42" y2="637.42" class="gmin"/>
<line x1="178.2" x2="320.55" y1="617.67" y2="617.67" class="gmin"/>
<line x1="178.2" x2="320.55" y1="597.92" y2="597.92" class="gmin"/>
<line x1="178.2" x2="320.55" y1="578.17" y2="578.17" class="gmin"/>
<line x1="178.2" x2="320.55" y1="558.42" y2="558.42" class="gmin"/>
<line x1="178.2" x2="320.55" y1="647.3" y2="647.3" class="gmaj"/>
<line x1="178.2" x2="320.55" y1="627.55" y2="627.55" class="gmaj"/>
<line x1="178.2" x2="320.55" y1="607.8" y2="607.8" class="gmaj"/>
<line x1="178.2" x2="320.55" y1="588.05" y2="588.05" class="gmaj"/>
<line x1="178.2" x2="320.55" y1="568.3" y2="568.3" class="gmaj"/>
<line x1="178.2" x2="320.55" y1="548.55" y2="548.55" class="gmaj"/>
<line x1="185.2" x2="185.2" y1="547.6" y2="652.1" class="gmaj"/>
<line x1="196.87" x2="196.87" y1="547.6" y2="652.1" class="gmaj"/>
<line x1="208.54" x2="208.54" y1="547.6" y2="652.1" class="gmaj"/>
<line x1="220.2" x2="220.2" y1="547.6" y2="652.1" class="gmaj"/>
<line x1="231.87" x2="231.87" y1="547.6" y2="652.1" class="gmaj"/>
<line x1="243.54" x2="243.54" y1="547.6" y2="652.1" class="gmaj"/>
<line x1="255.21" x2="255.21" y1="547.6" y2="652.1" class="gmaj"/>
<line x1="266.88" x2="266.88" y1="547.6" y2="652.1" class="gmaj"/>
<line x1="278.55" x2="278.55" y1="547.6" y2="652.1" class="gmaj"/>
<line x1="290.21" x2="290.21" y1="547.6" y2="652.1" class="gmaj"/>
<line x1="301.88" x2="301.88" y1="547.6" y2="652.1" class="gmaj"/>
<line x1="313.55" x2="313.55" y1="547.6" y2="652.1" class="gmaj"/>
<rect x="179.95" y="642.83" width="10.5" height="4.47" fill="#7CAE00"/>
<rect x="179.95" y="638.68" width="10.5" height="4.15" fill="#00BFC4"/>
<rect x="179.95" y="634.9" width="10.5" height="3.78" fill="#F8766D"/>
<rect x="179.95" y="630.5" width="10.5" height="4.41" fill="#C77CFF"/>
<rect x="191.62" y="642.83" width="10.5" height="4.47" fill="#7CAE00"/>
<rect x="191.62" y="637.8" width="10.5" height="5.04" fill="#00BFC4"/>
<rect x="191.62" y="632.39" width="10.5" height="5.41" fill="#F8766D"/>
<rect x="191.62" y="628.74" width="10.5" height="3.65" fill="#C77CFF"/>
<rect x="203.29" y="642.58" width="10.5" height="4.72" fill="#7CAE00"/>
<rect x="203.29" y="637.55" width="10.5" height="5.04" fill="#00BFC4"/>
<rect x="203.29" y="631.88" width="10.5" height="5.66" fill="#F8766D"/>
<rect x="203.29" y="627.98" width="10.5" height="3.9" fill="#C77CFF"/>
<rect x="214.95" y="643.09" width="10.5" height="4.21" fill="#7CAE00"/>
<rect x="214.95" y="638.43" width="10.5" height="4.66" fill="#00BFC4"/>
<rect x="214.95" y="633.14" width="10.5" height="5.29" fill="#F8766D"/>
<rect x="214.95" y="628.36" width="10.5" height="4.78" fill="#C77CFF"/>
<rect x="226.62" y="635.91" width="10.5" height="11.39" fill="#7CAE00"/>
<rect x="226.62" y="623.19" width="10.5" height="12.71" fill="#00BFC4"/>
<rect x="226.62" y="610.35" width="10.5" height="12.84" fill="#F8766D"/>
<rect x="226.62" y="588.95" width="10.5" height="21.4" fill="#C77CFF"/>
<rect x="238.29" y="643.46" width="10.5" height="3.84" fill="#7CAE00"/>
<rect x="238.29" y="639.69" width="10.5" height="3.78" fill="#00BFC4"/>
<rect x="238.29" y="636.92" width="10.5" height="2.77" fill="#F8766D"/>
<rect x="238.29" y="634.27" width="10.5" height="2.64" fill="#C77CFF"/>
<rect x="249.96" y="644.72" width="10.5" height="2.58" fill="#7CAE00"/>
<rect x="249.96" y="642.21" width="10.5" height="2.52" fill="#00BFC4"/>
<rect x="249.96" y="639.94" width="10.5" height="2.27" fill="#F8766D"/>
<rect x="249.96" y="636.29" width="10.5" height="3.65" fill="#C77CFF"/>
<rect x="261.63" y="641.32" width="10.5" height="5.98" fill="#7CAE00"/>
<rect x="261.63" y="635.28" width="10.5" height="6.04" fill="#00BFC4"/>
<rect x="261.63" y="627.73" width="10.5" height="7.55" fill="#F8766D"/>
<rect x="261.63" y="618.67" width="10.5" height="9.06" fill="#C77CFF"/>
<rect x="273.29" y="644.09" width="10.5" height="3.21" fill="#7CAE00"/>
<rect x="273.29" y="640.32" width="10.5" height="3.78" fill="#00BFC4"/>
<rect x="273.29" y="636.92" width="10.5" height="3.4" fill="#F8766D"/>
<rect x="273.29" y="631.25" width="10.5" height="5.66" fill="#C77CFF"/>
<rect x="284.96" y="639.69" width="10.5" height="7.61" fill="#7CAE00"/>
<rect x="284.96" y="632.51" width="10.5" height="7.18" fill="#00BFC4"/>
<rect x="284.96" y="622.95" width="10.5" height="9.57" fill="#F8766D"/>
<rect x="284.96" y="611.36" width="10.5" height="11.58" fill="#C77CFF"/>
<rect x="296.63" y="638.18" width="10.5" height="9.12" fill="#7CAE00"/>
<rect x="296.63" y="629.87" width="10.5" height="8.31" fill="#00BFC4"/>
<rect x="296.63" y="618.92" width="10.5" height="10.95" fill="#F8766D"/>
<rect x="296.63" y="605.7" width="10.5" height="13.22" fill="#C77CFF"/>
<rect x="308.3" y="636.54" width="10.5" height="10.76" fill="#7CAE00"/>
<rect x="308.3" y="626.22" width="10.5" height="10.32" fill="#00BFC4"/>
<rect x="308.3" y="613.5" width="10.5" height="12.71" fill="#F8766D"/>
<rect x="308.3" y="598.78" width="10.5" height="14.73" fill="#C77CFF"/>
<rect x="324.5" y="547.6" width="142.35" height="104.5" fill="#EBEBEB"/>
<line x1="324.5" x2="466.85" y1="637.42" y2="637.42" class="gmin"/>
<line x1="324.5" x2="466.85" y1="617.67" y2="617.67" class="gmin"/>
<line x1="324.5" x2="466.85" y1="597.92" y2="597.92" class="gmin"/>
<line x1="324.5" x2="466.85" y1="578.17" y2="578.17" class="gmin"/>
<line x1="324.5" x2="466.85" y1="558.42" y2="558.42" class="gmin"/>
<line x1="324.5" x2="466.85" y1="647.3" y2="647.3" class="gmaj"/>
<line x1="324.5" x2="466.85" y1="627.55" y2="627.55" class="gmaj"/>
<line x1="324.5" x2="466.85" y1="607.8" y2="607.8" class="gmaj"/>
<line x1="324.5" x2="466.85" y1="588.05" y2="588.05" class="gmaj"/>
<line x1="324.5" x2="466.85" y1="568.3" y2="568.3" class="gmaj"/>
<line x1="324.5" x2="466.85" y1="548.55" y2="548.55" class="gmaj"/>
<line x1="331.5" x2="331.5" y1="547.6" y2="652.1" class="gmaj"/>
<line x1="343.17" x2="343.17" y1="547.6" y2="652.1" class="gmaj"/>
<line x1="354.84" x2="354.84" y1="547.6" y2="652.1" class="gmaj"/>
<line x1="366.5" x2="366.5" y1="547.6" y2="652.1" class="gmaj"/>
<line x1="378.17" x2="378.17" y1="547.6" y2="652.1" class="gmaj"/>
<line x1="389.84" x2="389.84" y1="547.6" y2="652.1" class="gmaj"/>
<line x1="401.51" x2="401.51" y1="547.6" y2="652.1" class="gmaj"/>
<line x1="413.18" x2="413.18" y1="547.6" y2="652.1" class="gmaj"/>
<line x1="424.85" x2="424.85" y1="547.6" y2="652.1" class="gmaj"/>
<line x1="436.51" x2="436.51" y1="547.6" y2="652.1" class="gmaj"/>
<line x1="448.18" x2="448.18" y1="547.6" y2="652.1" class="gmaj"/>
<line x1="459.85" x2="459.85" y1="547.6" y2="652.1" class="gmaj"/>
<rect x="326.25" y="640.56" width="10.5" height="6.74" fill="#7CAE00"/>
<rect x="326.25" y="634.02" width="10.5" height="6.55" fill="#00BFC4"/>
<rect x="326.25" y="627.98" width="10.5" height="6.04" fill="#F8766D"/>
<rect x="326.25" y="621.3" width="10.5" height="6.67" fill="#C77CFF"/>
<rect x="337.92" y="641.45" width="10.5" height="5.85" fill="#7CAE00"/>
<rect x="337.92" y="635.91" width="10.5" height="5.54" fill="#00BFC4"/>
<rect x="337.92" y="630.12" width="10.5" height="5.79" fill="#F8766D"/>
<rect x="337.92" y="623.95" width="10.5" height="6.17" fill="#C77CFF"/>
<rect x="349.59" y="641.19" width="10.5" height="6.11" fill="#7CAE00"/>
<rect x="349.59" y="635.53" width="10.5" height="5.66" fill="#00BFC4"/>
<rect x="349.59" y="628.98" width="10.5" height="6.55" fill="#F8766D"/>
<rect x="349.59" y="622.06" width="10.5" height="6.92" fill="#C77CFF"/>
<rect x="361.25" y="641.57" width="10.5" height="5.73" fill="#7CAE00"/>
<rect x="361.25" y="635.91" width="10.5" height="5.66" fill="#00BFC4"/>
<rect x="361.25" y="630.12" width="10.5" height="5.79" fill="#F8766D"/>
<rect x="361.25" y="624.2" width="10.5" height="5.92" fill="#C77CFF"/>
<rect x="372.92" y="627.98" width="10.5" height="19.32" fill="#7CAE00"/>
<rect x="372.92" y="613.5" width="10.5" height="14.48" fill="#00BFC4"/>
<rect x="372.92" y="592.48" width="10.5" height="21.02" fill="#F8766D"/>
<rect x="372.92" y="565.04" width="10.5" height="27.44" fill="#C77CFF"/>
<rect x="384.59" y="638.68" width="10.5" height="8.62" fill="#7CAE00"/>
<rect x="384.59" y="629.86" width="10.5" height="8.81" fill="#00BFC4"/>
<rect x="384.59" y="620.8" width="10.5" height="9.06" fill="#F8766D"/>
<rect x="384.59" y="610.73" width="10.5" height="10.07" fill="#C77CFF"/>
<rect x="396.26" y="639.31" width="10.5" height="7.99" fill="#7CAE00"/>
<rect x="396.26" y="630.87" width="10.5" height="8.43" fill="#00BFC4"/>
<rect x="396.26" y="622.94" width="10.5" height="7.93" fill="#F8766D"/>
<rect x="396.26" y="614.38" width="10.5" height="8.56" fill="#C77CFF"/>
<rect x="407.93" y="636.16" width="10.5" height="11.14" fill="#7CAE00"/>
<rect x="407.93" y="624.83" width="10.5" height="11.33" fill="#00BFC4"/>
<rect x="407.93" y="612.87" width="10.5" height="11.96" fill="#F8766D"/>
<rect x="407.93" y="601.16" width="10.5" height="11.71" fill="#C77CFF"/>
<rect x="419.59" y="639.31" width="10.5" height="7.99" fill="#7CAE00"/>
<rect x="419.59" y="630.75" width="10.5" height="8.56" fill="#00BFC4"/>
<rect x="419.59" y="622.06" width="10.5" height="8.69" fill="#F8766D"/>
<rect x="419.59" y="613.5" width="10.5" height="8.56" fill="#C77CFF"/>
<rect x="431.26" y="632.76" width="10.5" height="14.54" fill="#7CAE00"/>
<rect x="431.26" y="618.53" width="10.5" height="14.22" fill="#00BFC4"/>
<rect x="431.26" y="602.8" width="10.5" height="15.74" fill="#F8766D"/>
<rect x="431.26" y="585.81" width="10.5" height="16.99" fill="#C77CFF"/>
<rect x="442.93" y="633.01" width="10.5" height="14.29" fill="#7CAE00"/>
<rect x="442.93" y="620.17" width="10.5" height="12.84" fill="#00BFC4"/>
<rect x="442.93" y="603.81" width="10.5" height="16.36" fill="#F8766D"/>
<rect x="442.93" y="586.18" width="10.5" height="17.62" fill="#C77CFF"/>
<rect x="454.6" y="632" width="10.5" height="15.3" fill="#7CAE00"/>
<rect x="454.6" y="618.91" width="10.5" height="13.09" fill="#00BFC4"/>
<rect x="454.6" y="603.05" width="10.5" height="15.86" fill="#F8766D"/>
<rect x="454.6" y="585.43" width="10.5" height="17.62" fill="#C77CFF"/>
<text class="yt" text-anchor="end" transform="translate(27.9 650.8) scale(1,1.15)">0.0</text>
<line x1="29.8" x2="31.7" y1="647.3" y2="647.3" class="tk"/>
<text class="yt" text-anchor="end" transform="translate(27.9 631.05) scale(1,1.15)">2.5</text>
<line x1="29.8" x2="31.7" y1="627.55" y2="627.55" class="tk"/>
<text class="yt" text-anchor="end" transform="translate(27.9 611.3) scale(1,1.15)">5.0</text>
<line x1="29.8" x2="31.7" y1="607.8" y2="607.8" class="tk"/>
<text class="yt" text-anchor="end" transform="translate(27.9 591.55) scale(1,1.15)">7.5</text>
<line x1="29.8" x2="31.7" y1="588.05" y2="588.05" class="tk"/>
<text class="yt" text-anchor="end" transform="translate(27.9 571.8) scale(1,1.15)">10.0</text>
<line x1="29.8" x2="31.7" y1="568.3" y2="568.3" class="tk"/>
<text class="yt" text-anchor="end" transform="translate(27.9 552.05) scale(1,1.15)">12.5</text>
<line x1="29.8" x2="31.7" y1="548.55" y2="548.55" class="tk"/>
<rect x="466.85" y="655.87" width="14.9" height="104.5" fill="#D9D9D9"/>
<text x="471.1" y="708.12" class="st" text-anchor="middle" transform="rotate(90 471.1 708.12)">WS.LT</text>
<rect x="31.7" y="655.87" width="142.35" height="104.5" fill="#EBEBEB"/>
<line x1="31.7" x2="174.05" y1="745.7" y2="745.7" class="gmin"/>
<line x1="31.7" x2="174.05" y1="725.95" y2="725.95" class="gmin"/>
<line x1="31.7" x2="174.05" y1="706.2" y2="706.2" class="gmin"/>
<line x1="31.7" x2="174.05" y1="686.45" y2="686.45" class="gmin"/>
<line x1="31.7" x2="174.05" y1="666.7" y2="666.7" class="gmin"/>
<line x1="31.7" x2="174.05" y1="755.57" y2="755.57" class="gmaj"/>
<line x1="31.7" x2="174.05" y1="735.82" y2="735.82" class="gmaj"/>
<line x1="31.7" x2="174.05" y1="716.07" y2="716.07" class="gmaj"/>
<line x1="31.7" x2="174.05" y1="696.32" y2="696.32" class="gmaj"/>
<line x1="31.7" x2="174.05" y1="676.57" y2="676.57" class="gmaj"/>
<line x1="31.7" x2="174.05" y1="656.82" y2="656.82" class="gmaj"/>
<line x1="38.7" x2="38.7" y1="655.87" y2="760.37" class="gmaj"/>
<line x1="50.37" x2="50.37" y1="655.87" y2="760.37" class="gmaj"/>
<line x1="62.04" x2="62.04" y1="655.87" y2="760.37" class="gmaj"/>
<line x1="73.7" x2="73.7" y1="655.87" y2="760.37" class="gmaj"/>
<line x1="85.37" x2="85.37" y1="655.87" y2="760.37" class="gmaj"/>
<line x1="97.04" x2="97.04" y1="655.87" y2="760.37" class="gmaj"/>
<line x1="108.71" x2="108.71" y1="655.87" y2="760.37" class="gmaj"/>
<line x1="120.38" x2="120.38" y1="655.87" y2="760.37" class="gmaj"/>
<line x1="132.05" x2="132.05" y1="655.87" y2="760.37" class="gmaj"/>
<line x1="143.71" x2="143.71" y1="655.87" y2="760.37" class="gmaj"/>
<line x1="155.38" x2="155.38" y1="655.87" y2="760.37" class="gmaj"/>
<line x1="167.05" x2="167.05" y1="655.87" y2="760.37" class="gmaj"/>
<rect x="33.45" y="751.54" width="10.5" height="4.03" fill="#7CAE00"/>
<rect x="33.45" y="749.65" width="10.5" height="1.89" fill="#00BFC4"/>
<rect x="33.45" y="743.74" width="10.5" height="5.92" fill="#F8766D"/>
<rect x="33.45" y="737.06" width="10.5" height="6.67" fill="#C77CFF"/>
<rect x="45.12" y="752.55" width="10.5" height="3.02" fill="#7CAE00"/>
<rect x="45.12" y="749.02" width="10.5" height="3.52" fill="#00BFC4"/>
<rect x="45.12" y="743.36" width="10.5" height="5.66" fill="#F8766D"/>
<rect x="45.12" y="737.95" width="10.5" height="5.41" fill="#C77CFF"/>
<rect x="56.79" y="751.29" width="10.5" height="4.28" fill="#7CAE00"/>
<rect x="56.79" y="747.13" width="10.5" height="4.15" fill="#00BFC4"/>
<rect x="56.79" y="740.46" width="10.5" height="6.67" fill="#F8766D"/>
<rect x="56.79" y="733.29" width="10.5" height="7.18" fill="#C77CFF"/>
<rect x="68.45" y="752.17" width="10.5" height="3.4" fill="#7CAE00"/>
<rect x="68.45" y="748.65" width="10.5" height="3.52" fill="#00BFC4"/>
<rect x="68.45" y="742.73" width="10.5" height="5.92" fill="#F8766D"/>
<rect x="68.45" y="735.81" width="10.5" height="6.92" fill="#C77CFF"/>
<rect x="80.12" y="752.8" width="10.5" height="2.77" fill="#7CAE00"/>
<rect x="80.12" y="747.51" width="10.5" height="5.29" fill="#00BFC4"/>
<rect x="80.12" y="741.47" width="10.5" height="6.04" fill="#F8766D"/>
<rect x="80.12" y="732.03" width="10.5" height="9.44" fill="#C77CFF"/>
<rect x="91.79" y="753.43" width="10.5" height="2.14" fill="#7CAE00"/>
<rect x="91.79" y="752.17" width="10.5" height="1.26" fill="#00BFC4"/>
<rect x="91.79" y="750.03" width="10.5" height="2.14" fill="#F8766D"/>
<rect x="91.79" y="744.99" width="10.5" height="5.04" fill="#C77CFF"/>
<rect x="103.46" y="754.06" width="10.5" height="1.51" fill="#7CAE00"/>
<rect x="103.46" y="752.8" width="10.5" height="1.26" fill="#00BFC4"/>
<rect x="103.46" y="750.28" width="10.5" height="2.52" fill="#F8766D"/>
<rect x="103.46" y="745.25" width="10.5" height="5.04" fill="#C77CFF"/>
<rect x="115.13" y="750.91" width="10.5" height="4.66" fill="#7CAE00"/>
<rect x="115.13" y="745.88" width="10.5" height="5.04" fill="#00BFC4"/>
<rect x="115.13" y="736.81" width="10.5" height="9.06" fill="#F8766D"/>
<rect x="115.13" y="727.88" width="10.5" height="8.94" fill="#C77CFF"/>
<rect x="126.79" y="753.81" width="10.5" height="1.76" fill="#7CAE00"/>
<rect x="126.79" y="752.17" width="10.5" height="1.64" fill="#00BFC4"/>
<rect x="126.79" y="748.39" width="10.5" height="3.78" fill="#F8766D"/>
<rect x="126.79" y="743.36" width="10.5" height="5.04" fill="#C77CFF"/>
<rect x="138.46" y="749.65" width="10.5" height="5.92" fill="#7CAE00"/>
<rect x="138.46" y="743.11" width="10.5" height="6.55" fill="#00BFC4"/>
<rect x="138.46" y="733.04" width="10.5" height="10.07" fill="#F8766D"/>
<rect x="138.46" y="722.97" width="10.5" height="10.07" fill="#C77CFF"/>
<rect x="150.13" y="750.03" width="10.5" height="5.54" fill="#7CAE00"/>
<rect x="150.13" y="744.87" width="10.5" height="5.16" fill="#00BFC4"/>
<rect x="150.13" y="735.81" width="10.5" height="9.06" fill="#F8766D"/>
<rect x="150.13" y="725.36" width="10.5" height="10.45" fill="#C77CFF"/>
<rect x="161.8" y="749.4" width="10.5" height="6.17" fill="#7CAE00"/>
<rect x="161.8" y="743.11" width="10.5" height="6.29" fill="#00BFC4"/>
<rect x="161.8" y="732.66" width="10.5" height="10.45" fill="#F8766D"/>
<rect x="161.8" y="720.45" width="10.5" height="12.21" fill="#C77CFF"/>
<rect x="178.2" y="655.87" width="142.35" height="104.5" fill="#EBEBEB"/>
<line x1="178.2" x2="320.55" y1="745.7" y2="745.7" class="gmin"/>
<line x1="178.2" x2="320.55" y1="725.95" y2="725.95" class="gmin"/>
<line x1="178.2" x2="320.55" y1="706.2" y2="706.2" class="gmin"/>
<line x1="178.2" x2="320.55" y1="686.45" y2="686.45" class="gmin"/>
<line x1="178.2" x2="320.55" y1="666.7" y2="666.7" class="gmin"/>
<line x1="178.2" x2="320.55" y1="755.57" y2="755.57" class="gmaj"/>
<line x1="178.2" x2="320.55" y1="735.82" y2="735.82" class="gmaj"/>
<line x1="178.2" x2="320.55" y1="716.07" y2="716.07" class="gmaj"/>
<line x1="178.2" x2="320.55" y1="696.32" y2="696.32" class="gmaj"/>
<line x1="178.2" x2="320.55" y1="676.57" y2="676.57" class="gmaj"/>
<line x1="178.2" x2="320.55" y1="656.82" y2="656.82" class="gmaj"/>
<line x1="185.2" x2="185.2" y1="655.87" y2="760.37" class="gmaj"/>
<line x1="196.87" x2="196.87" y1="655.87" y2="760.37" class="gmaj"/>
<line x1="208.54" x2="208.54" y1="655.87" y2="760.37" class="gmaj"/>
<line x1="220.2" x2="220.2" y1="655.87" y2="760.37" class="gmaj"/>
<line x1="231.87" x2="231.87" y1="655.87" y2="760.37" class="gmaj"/>
<line x1="243.54" x2="243.54" y1="655.87" y2="760.37" class="gmaj"/>
<line x1="255.21" x2="255.21" y1="655.87" y2="760.37" class="gmaj"/>
<line x1="266.88" x2="266.88" y1="655.87" y2="760.37" class="gmaj"/>
<line x1="278.55" x2="278.55" y1="655.87" y2="760.37" class="gmaj"/>
<line x1="290.21" x2="290.21" y1="655.87" y2="760.37" class="gmaj"/>
<line x1="301.88" x2="301.88" y1="655.87" y2="760.37" class="gmaj"/>
<line x1="313.55" x2="313.55" y1="655.87" y2="760.37" class="gmaj"/>
<rect x="179.95" y="753.43" width="10.5" height="2.14" fill="#7CAE00"/>
<rect x="179.95" y="751.54" width="10.5" height="1.89" fill="#00BFC4"/>
<rect x="179.95" y="749.27" width="10.5" height="2.27" fill="#F8766D"/>
<rect x="179.95" y="747.39" width="10.5" height="1.89" fill="#C77CFF"/>
<rect x="191.62" y="751.92" width="10.5" height="3.65" fill="#7CAE00"/>
<rect x="191.62" y="748.14" width="10.5" height="3.78" fill="#00BFC4"/>
<rect x="191.62" y="743.74" width="10.5" height="4.41" fill="#F8766D"/>
<rect x="191.62" y="740.84" width="10.5" height="2.9" fill="#C77CFF"/>
<rect x="203.29" y="751.54" width="10.5" height="4.03" fill="#7CAE00"/>
<rect x="203.29" y="747.39" width="10.5" height="4.15" fill="#00BFC4"/>
<rect x="203.29" y="742.1" width="10.5" height="5.29" fill="#F8766D"/>
<rect x="203.29" y="738.95" width="10.5" height="3.15" fill="#C77CFF"/>
<rect x="214.95" y="752.17" width="10.5" height="3.4" fill="#7CAE00"/>
<rect x="214.95" y="748.65" width="10.5" height="3.52" fill="#00BFC4"/>
<rect x="214.95" y="743.99" width="10.5" height="4.66" fill="#F8766D"/>
<rect x="214.95" y="739.83" width="10.5" height="4.15" fill="#C77CFF"/>
<rect x="226.62" y="749.02" width="10.5" height="6.55" fill="#7CAE00"/>
<rect x="226.62" y="740.59" width="10.5" height="8.43" fill="#00BFC4"/>
<rect x="226.62" y="732.03" width="10.5" height="8.56" fill="#F8766D"/>
<rect x="226.62" y="714.78" width="10.5" height="17.25" fill="#C77CFF"/>
<rect x="238.29" y="753.81" width="10.5" height="1.76" fill="#7CAE00"/>
<rect x="238.29" y="750.91" width="10.5" height="2.9" fill="#00BFC4"/>
<rect x="238.29" y="748.77" width="10.5" height="2.14" fill="#F8766D"/>
<rect x="238.29" y="747.76" width="10.5" height="1.01" fill="#C77CFF"/>
<rect x="249.96" y="754.06" width="10.5" height="1.51" fill="#7CAE00"/>
<rect x="249.96" y="752.8" width="10.5" height="1.26" fill="#00BFC4"/>
<rect x="249.96" y="751.79" width="10.5" height="1.01" fill="#F8766D"/>
<rect x="249.96" y="750.66" width="10.5" height="1.13" fill="#C77CFF"/>
<rect x="261.63" y="750.53" width="10.5" height="5.04" fill="#7CAE00"/>
<rect x="261.63" y="745.25" width="10.5" height="5.29" fill="#00BFC4"/>
<rect x="261.63" y="737.95" width="10.5" height="7.3" fill="#F8766D"/>
<rect x="261.63" y="729.89" width="10.5" height="8.06" fill="#C77CFF"/>
<rect x="273.29" y="753.81" width="10.5" height="1.76" fill="#7CAE00"/>
<rect x="273.29" y="750.66" width="10.5" height="3.15" fill="#00BFC4"/>
<rect x="273.29" y="747.76" width="10.5" height="2.9" fill="#F8766D"/>
<rect x="273.29" y="743.11" width="10.5" height="4.66" fill="#C77CFF"/>
<rect x="284.96" y="748.77" width="10.5" height="6.8" fill="#7CAE00"/>
<rect x="284.96" y="742.48" width="10.5" height="6.29" fill="#00BFC4"/>
<rect x="284.96" y="733.54" width="10.5" height="8.94" fill="#F8766D"/>
<rect x="284.96" y="722.97" width="10.5" height="10.57" fill="#C77CFF"/>
<rect x="296.63" y="748.02" width="10.5" height="7.55" fill="#7CAE00"/>
<rect x="296.63" y="741.09" width="10.5" height="6.92" fill="#00BFC4"/>
<rect x="296.63" y="731.02" width="10.5" height="10.07" fill="#F8766D"/>
<rect x="296.63" y="719.82" width="10.5" height="11.2" fill="#C77CFF"/>
<rect x="308.3" y="747.13" width="10.5" height="8.44" fill="#7CAE00"/>
<rect x="308.3" y="738.95" width="10.5" height="8.18" fill="#00BFC4"/>
<rect x="308.3" y="728.25" width="10.5" height="10.7" fill="#F8766D"/>
<rect x="308.3" y="715.92" width="10.5" height="12.34" fill="#C77CFF"/>
<rect x="324.5" y="655.87" width="142.35" height="104.5" fill="#EBEBEB"/>
<line x1="324.5" x2="466.85" y1="745.7" y2="745.7" class="gmin"/>
<line x1="324.5" x2="466.85" y1="725.95" y2="725.95" class="gmin"/>
<line x1="324.5" x2="466.85" y1="706.2" y2="706.2" class="gmin"/>
<line x1="324.5" x2="466.85" y1="686.45" y2="686.45" class="gmin"/>
<line x1="324.5" x2="466.85" y1="666.7" y2="666.7" class="gmin"/>
<line x1="324.5" x2="466.85" y1="755.57" y2="755.57" class="gmaj"/>
<line x1="324.5" x2="466.85" y1="735.82" y2="735.82" class="gmaj"/>
<line x1="324.5" x2="466.85" y1="716.07" y2="716.07" class="gmaj"/>
<line x1="324.5" x2="466.85" y1="696.32" y2="696.32" class="gmaj"/>
<line x1="324.5" x2="466.85" y1="676.57" y2="676.57" class="gmaj"/>
<line x1="324.5" x2="466.85" y1="656.82" y2="656.82" class="gmaj"/>
<line x1="331.5" x2="331.5" y1="655.87" y2="760.37" class="gmaj"/>
<line x1="343.17" x2="343.17" y1="655.87" y2="760.37" class="gmaj"/>
<line x1="354.84" x2="354.84" y1="655.87" y2="760.37" class="gmaj"/>
<line x1="366.5" x2="366.5" y1="655.87" y2="760.37" class="gmaj"/>
<line x1="378.17" x2="378.17" y1="655.87" y2="760.37" class="gmaj"/>
<line x1="389.84" x2="389.84" y1="655.87" y2="760.37" class="gmaj"/>
<line x1="401.51" x2="401.51" y1="655.87" y2="760.37" class="gmaj"/>
<line x1="413.18" x2="413.18" y1="655.87" y2="760.37" class="gmaj"/>
<line x1="424.85" x2="424.85" y1="655.87" y2="760.37" class="gmaj"/>
<line x1="436.51" x2="436.51" y1="655.87" y2="760.37" class="gmaj"/>
<line x1="448.18" x2="448.18" y1="655.87" y2="760.37" class="gmaj"/>
<line x1="459.85" x2="459.85" y1="655.87" y2="760.37" class="gmaj"/>
<rect x="326.25" y="753.39" width="10.5" height="2.18" fill="#7CAE00"/>
<rect x="326.25" y="751.37" width="10.5" height="2.01" fill="#00BFC4"/>
<rect x="326.25" y="748.98" width="10.5" height="2.39" fill="#F8766D"/>
<rect x="326.25" y="747.35" width="10.5" height="1.64" fill="#C77CFF"/>
<rect x="337.92" y="754.02" width="10.5" height="1.55" fill="#7CAE00"/>
<rect x="337.92" y="752.76" width="10.5" height="1.26" fill="#00BFC4"/>
<rect x="337.92" y="750.12" width="10.5" height="2.64" fill="#F8766D"/>
<rect x="337.92" y="747.09" width="10.5" height="3.02" fill="#C77CFF"/>
<rect x="349.59" y="753.01" width="10.5" height="2.56" fill="#7CAE00"/>
<rect x="349.59" y="750.75" width="10.5" height="2.27" fill="#00BFC4"/>
<rect x="349.59" y="746.34" width="10.5" height="4.41" fill="#F8766D"/>
<rect x="349.59" y="742.31" width="10.5" height="4.03" fill="#C77CFF"/>
<rect x="361.25" y="754.02" width="10.5" height="1.55" fill="#7CAE00"/>
<rect x="361.25" y="753.01" width="10.5" height="1.01" fill="#00BFC4"/>
<rect x="361.25" y="750.12" width="10.5" height="2.9" fill="#F8766D"/>
<rect x="361.25" y="747.98" width="10.5" height="2.14" fill="#C77CFF"/>
<rect x="372.92" y="741.05" width="10.5" height="14.52" fill="#7CAE00"/>
<rect x="372.92" y="730.35" width="10.5" height="10.7" fill="#00BFC4"/>
<rect x="372.92" y="714.24" width="10.5" height="16.11" fill="#F8766D"/>
<rect x="372.92" y="691.33" width="10.5" height="22.91" fill="#C77CFF"/>
<rect x="384.59" y="749.86" width="10.5" height="5.71" fill="#7CAE00"/>
<rect x="384.59" y="743.57" width="10.5" height="6.29" fill="#00BFC4"/>
<rect x="384.59" y="737.02" width="10.5" height="6.55" fill="#F8766D"/>
<rect x="384.59" y="729.35" width="10.5" height="7.68" fill="#C77CFF"/>
<rect x="396.26" y="750.75" width="10.5" height="4.82" fill="#7CAE00"/>
<rect x="396.26" y="745.08" width="10.5" height="5.66" fill="#00BFC4"/>
<rect x="396.26" y="739.79" width="10.5" height="5.29" fill="#F8766D"/>
<rect x="396.26" y="733.88" width="10.5" height="5.92" fill="#C77CFF"/>
<rect x="407.93" y="746.97" width="10.5" height="8.6" fill="#7CAE00"/>
<rect x="407.93" y="737.53" width="10.5" height="9.44" fill="#00BFC4"/>
<rect x="407.93" y="727.21" width="10.5" height="10.32" fill="#F8766D"/>
<rect x="407.93" y="717.51" width="10.5" height="9.69" fill="#C77CFF"/>
<rect x="419.59" y="750.12" width="10.5" height="5.45" fill="#7CAE00"/>
<rect x="419.59" y="743.82" width="10.5" height="6.29" fill="#00BFC4"/>
<rect x="419.59" y="737.91" width="10.5" height="5.92" fill="#F8766D"/>
<rect x="419.59" y="730.98" width="10.5" height="6.92" fill="#C77CFF"/>
<rect x="431.26" y="743.19" width="10.5" height="12.38" fill="#7CAE00"/>
<rect x="431.26" y="731.23" width="10.5" height="11.96" fill="#00BFC4"/>
<rect x="431.26" y="716.76" width="10.5" height="14.48" fill="#F8766D"/>
<rect x="431.26" y="701.4" width="10.5" height="15.36" fill="#C77CFF"/>
<rect x="442.93" y="744.2" width="10.5" height="11.37" fill="#7CAE00"/>
<rect x="442.93" y="734.13" width="10.5" height="10.07" fill="#00BFC4"/>
<rect x="442.93" y="720.03" width="10.5" height="14.1" fill="#F8766D"/>
<rect x="442.93" y="704.92" width="10.5" height="15.11" fill="#C77CFF"/>
<rect x="454.6" y="743.57" width="10.5" height="12" fill="#7CAE00"/>
<rect x="454.6" y="733.12" width="10.5" height="10.45" fill="#00BFC4"/>
<rect x="454.6" y="720.03" width="10.5" height="13.09" fill="#F8766D"/>
<rect x="454.6" y="704.8" width="10.5" height="15.23" fill="#C77CFF"/>
<text class="yt" text-anchor="end" transform="translate(27.9 759.07) scale(1,1.15)">0.0</text>
<line x1="29.8" x2="31.7" y1="755.57" y2="755.57" class="tk"/>
<text class="yt" text-anchor="end" transform="translate(27.9 739.32) scale(1,1.15)">2.5</text>
<line x1="29.8" x2="31.7" y1="735.82" y2="735.82" class="tk"/>
<text class="yt" text-anchor="end" transform="translate(27.9 719.57) scale(1,1.15)">5.0</text>
<line x1="29.8" x2="31.7" y1="716.07" y2="716.07" class="tk"/>
<text class="yt" text-anchor="end" transform="translate(27.9 699.82) scale(1,1.15)">7.5</text>
<line x1="29.8" x2="31.7" y1="696.32" y2="696.32" class="tk"/>
<text class="yt" text-anchor="end" transform="translate(27.9 680.07) scale(1,1.15)">10.0</text>
<line x1="29.8" x2="31.7" y1="676.57" y2="676.57" class="tk"/>
<text class="yt" text-anchor="end" transform="translate(27.9 660.32) scale(1,1.15)">12.5</text>
<line x1="29.8" x2="31.7" y1="656.82" y2="656.82" class="tk"/>
<rect x="466.85" y="764.14" width="14.9" height="104.5" fill="#D9D9D9"/>
<text x="471.1" y="816.39" class="st" text-anchor="middle" transform="rotate(90 471.1 816.39)">WS.SY</text>
<rect x="31.7" y="764.14" width="142.35" height="104.5" fill="#EBEBEB"/>
<line x1="31.7" x2="174.05" y1="853.97" y2="853.97" class="gmin"/>
<line x1="31.7" x2="174.05" y1="834.22" y2="834.22" class="gmin"/>
<line x1="31.7" x2="174.05" y1="814.47" y2="814.47" class="gmin"/>
<line x1="31.7" x2="174.05" y1="794.72" y2="794.72" class="gmin"/>
<line x1="31.7" x2="174.05" y1="774.97" y2="774.97" class="gmin"/>
<line x1="31.7" x2="174.05" y1="863.84" y2="863.84" class="gmaj"/>
<line x1="31.7" x2="174.05" y1="844.09" y2="844.09" class="gmaj"/>
<line x1="31.7" x2="174.05" y1="824.34" y2="824.34" class="gmaj"/>
<line x1="31.7" x2="174.05" y1="804.59" y2="804.59" class="gmaj"/>
<line x1="31.7" x2="174.05" y1="784.84" y2="784.84" class="gmaj"/>
<line x1="31.7" x2="174.05" y1="765.09" y2="765.09" class="gmaj"/>
<line x1="38.7" x2="38.7" y1="764.14" y2="868.64" class="gmaj"/>
<line x1="50.37" x2="50.37" y1="764.14" y2="868.64" class="gmaj"/>
<line x1="62.04" x2="62.04" y1="764.14" y2="868.64" class="gmaj"/>
<line x1="73.7" x2="73.7" y1="764.14" y2="868.64" class="gmaj"/>
<line x1="85.37" x2="85.37" y1="764.14" y2="868.64" class="gmaj"/>
<line x1="97.04" x2="97.04" y1="764.14" y2="868.64" class="gmaj"/>
<line x1="108.71" x2="108.71" y1="764.14" y2="868.64" class="gmaj"/>
<line x1="120.38" x2="120.38" y1="764.14" y2="868.64" class="gmaj"/>
<line x1="132.05" x2="132.05" y1="764.14" y2="868.64" class="gmaj"/>
<line x1="143.71" x2="143.71" y1="764.14" y2="868.64" class="gmaj"/>
<line x1="155.38" x2="155.38" y1="764.14" y2="868.64" class="gmaj"/>
<line x1="167.05" x2="167.05" y1="764.14" y2="868.64" class="gmaj"/>
<rect x="33.45" y="861.25" width="10.5" height="2.59" fill="#7CAE00"/>
<rect x="33.45" y="858.99" width="10.5" height="2.27" fill="#00BFC4"/>
<rect x="33.45" y="856.22" width="10.5" height="2.77" fill="#F8766D"/>
<rect x="33.45" y="852.69" width="10.5" height="3.52" fill="#C77CFF"/>
<rect x="45.12" y="862.51" width="10.5" height="1.33" fill="#7CAE00"/>
<rect x="45.12" y="861.25" width="10.5" height="1.26" fill="#00BFC4"/>
<rect x="45.12" y="860.25" width="10.5" height="1.01" fill="#F8766D"/>
<rect x="45.12" y="858.99" width="10.5" height="1.26" fill="#C77CFF"/>
<rect x="56.79" y="862.39" width="10.5" height="1.45" fill="#7CAE00"/>
<rect x="56.79" y="860.88" width="10.5" height="1.51" fill="#00BFC4"/>
<rect x="56.79" y="859.62" width="10.5" height="1.26" fill="#F8766D"/>
<rect x="56.79" y="858.11" width="10.5" height="1.51" fill="#C77CFF"/>
<rect x="68.45" y="862.51" width="10.5" height="1.33" fill="#7CAE00"/>
<rect x="68.45" y="861.25" width="10.5" height="1.26" fill="#00BFC4"/>
<rect x="68.45" y="860.25" width="10.5" height="1.01" fill="#F8766D"/>
<rect x="68.45" y="858.99" width="10.5" height="1.26" fill="#C77CFF"/>
<rect x="80.12" y="858.36" width="10.5" height="5.48" fill="#7CAE00"/>
<rect x="80.12" y="853.7" width="10.5" height="4.66" fill="#00BFC4"/>
<rect x="80.12" y="845.14" width="10.5" height="8.56" fill="#F8766D"/>
<rect x="80.12" y="838.85" width="10.5" height="6.29" fill="#C77CFF"/>
<rect x="91.79" y="862.51" width="10.5" height="1.33" fill="#7CAE00"/>
<rect x="91.79" y="861.51" width="10.5" height="1.01" fill="#00BFC4"/>
<rect x="91.79" y="860.25" width="10.5" height="1.26" fill="#F8766D"/>
<rect x="91.79" y="858.99" width="10.5" height="1.26" fill="#C77CFF"/>
<rect x="103.46" y="862.76" width="10.5" height="1.08" fill="#7CAE00"/>
<rect x="103.46" y="861.76" width="10.5" height="1.01" fill="#00BFC4"/>
<rect x="103.46" y="860.88" width="10.5" height="0.88" fill="#F8766D"/>
<rect x="103.46" y="859.62" width="10.5" height="1.26" fill="#C77CFF"/>
<rect x="115.13" y="862.51" width="10.5" height="1.33" fill="#7CAE00"/>
<rect x="115.13" y="860.88" width="10.5" height="1.64" fill="#00BFC4"/>
<rect x="115.13" y="859.62" width="10.5" height="1.26" fill="#F8766D"/>
<rect x="115.13" y="858.36" width="10.5" height="1.26" fill="#C77CFF"/>
<rect x="126.79" y="862.76" width="10.5" height="1.08" fill="#7CAE00"/>
<rect x="126.79" y="861.76" width="10.5" height="1.01" fill="#00BFC4"/>
<rect x="126.79" y="860.88" width="10.5" height="0.88" fill="#F8766D"/>
<rect x="126.79" y="859.37" width="10.5" height="1.51" fill="#C77CFF"/>
<rect x="138.46" y="862.39" width="10.5" height="1.45" fill="#7CAE00"/>
<rect x="138.46" y="860.5" width="10.5" height="1.89" fill="#00BFC4"/>
<rect x="138.46" y="858.36" width="10.5" height="2.14" fill="#F8766D"/>
<rect x="138.46" y="856.22" width="10.5" height="2.14" fill="#C77CFF"/>
<rect x="150.13" y="861.25" width="10.5" height="2.59" fill="#7CAE00"/>
<rect x="150.13" y="858.61" width="10.5" height="2.64" fill="#00BFC4"/>
<rect x="150.13" y="855.84" width="10.5" height="2.77" fill="#F8766D"/>
<rect x="150.13" y="853.32" width="10.5" height="2.52" fill="#C77CFF"/>
<rect x="161.8" y="860.88" width="10.5" height="2.96" fill="#7CAE00"/>
<rect x="161.8" y="857.1" width="10.5" height="3.78" fill="#00BFC4"/>
<rect x="161.8" y="853.7" width="10.5" height="3.4" fill="#F8766D"/>
<rect x="161.8" y="850.81" width="10.5" height="2.9" fill="#C77CFF"/>
<rect x="178.2" y="764.14" width="142.35" height="104.5" fill="#EBEBEB"/>
<line x1="178.2" x2="320.55" y1="853.97" y2="853.97" class="gmin"/>
<line x1="178.2" x2="320.55" y1="834.22" y2="834.22" class="gmin"/>
<line x1="178.2" x2="320.55" y1="814.47" y2="814.47" class="gmin"/>
<line x1="178.2" x2="320.55" y1="794.72" y2="794.72" class="gmin"/>
<line x1="178.2" x2="320.55" y1="774.97" y2="774.97" class="gmin"/>
<line x1="178.2" x2="320.55" y1="863.84" y2="863.84" class="gmaj"/>
<line x1="178.2" x2="320.55" y1="844.09" y2="844.09" class="gmaj"/>
<line x1="178.2" x2="320.55" y1="824.34" y2="824.34" class="gmaj"/>
<line x1="178.2" x2="320.55" y1="804.59" y2="804.59" class="gmaj"/>
<line x1="178.2" x2="320.55" y1="784.84" y2="784.84" class="gmaj"/>
<line x1="178.2" x2="320.55" y1="765.09" y2="765.09" class="gmaj"/>
<line x1="185.2" x2="185.2" y1="764.14" y2="868.64" class="gmaj"/>
<line x1="196.87" x2="196.87" y1="764.14" y2="868.64" class="gmaj"/>
<line x1="208.54" x2="208.54" y1="764.14" y2="868.64" class="gmaj"/>
<line x1="220.2" x2="220.2" y1="764.14" y2="868.64" class="gmaj"/>
<line x1="231.87" x2="231.87" y1="764.14" y2="868.64" class="gmaj"/>
<line x1="243.54" x2="243.54" y1="764.14" y2="868.64" class="gmaj"/>
<line x1="255.21" x2="255.21" y1="764.14" y2="868.64" class="gmaj"/>
<line x1="266.88" x2="266.88" y1="764.14" y2="868.64" class="gmaj"/>
<line x1="278.55" x2="278.55" y1="764.14" y2="868.64" class="gmaj"/>
<line x1="290.21" x2="290.21" y1="764.14" y2="868.64" class="gmaj"/>
<line x1="301.88" x2="301.88" y1="764.14" y2="868.64" class="gmaj"/>
<line x1="313.55" x2="313.55" y1="764.14" y2="868.64" class="gmaj"/>
<rect x="179.95" y="861.51" width="10.5" height="2.33" fill="#7CAE00"/>
<rect x="179.95" y="858.99" width="10.5" height="2.52" fill="#00BFC4"/>
<rect x="179.95" y="857.1" width="10.5" height="1.89" fill="#F8766D"/>
<rect x="179.95" y="854.83" width="10.5" height="2.27" fill="#C77CFF"/>
<rect x="191.62" y="862.39" width="10.5" height="1.45" fill="#7CAE00"/>
<rect x="191.62" y="861.13" width="10.5" height="1.26" fill="#00BFC4"/>
<rect x="191.62" y="859.87" width="10.5" height="1.26" fill="#F8766D"/>
<rect x="191.62" y="858.36" width="10.5" height="1.51" fill="#C77CFF"/>
<rect x="203.29" y="862.39" width="10.5" height="1.45" fill="#7CAE00"/>
<rect x="203.29" y="861.13" width="10.5" height="1.26" fill="#00BFC4"/>
<rect x="203.29" y="859.87" width="10.5" height="1.26" fill="#F8766D"/>
<rect x="203.29" y="858.36" width="10.5" height="1.51" fill="#C77CFF"/>
<rect x="214.95" y="862.39" width="10.5" height="1.45" fill="#7CAE00"/>
<rect x="214.95" y="861.25" width="10.5" height="1.13" fill="#00BFC4"/>
<rect x="214.95" y="860.25" width="10.5" height="1.01" fill="#F8766D"/>
<rect x="214.95" y="858.99" width="10.5" height="1.26" fill="#C77CFF"/>
<rect x="226.62" y="856.72" width="10.5" height="7.12" fill="#7CAE00"/>
<rect x="226.62" y="850.81" width="10.5" height="5.92" fill="#00BFC4"/>
<rect x="226.62" y="843.88" width="10.5" height="6.92" fill="#F8766D"/>
<rect x="226.62" y="834.44" width="10.5" height="9.44" fill="#C77CFF"/>
<rect x="238.29" y="862.39" width="10.5" height="1.45" fill="#7CAE00"/>
<rect x="238.29" y="861.51" width="10.5" height="0.88" fill="#00BFC4"/>
<rect x="238.29" y="860.62" width="10.5" height="0.88" fill="#F8766D"/>
<rect x="238.29" y="859.24" width="10.5" height="1.38" fill="#C77CFF"/>
<rect x="249.96" y="862.76" width="10.5" height="1.08" fill="#7CAE00"/>
<rect x="249.96" y="862.13" width="10.5" height="0.63" fill="#00BFC4"/>
<rect x="249.96" y="861.51" width="10.5" height="0.63" fill="#F8766D"/>
<rect x="249.96" y="860.25" width="10.5" height="1.26" fill="#C77CFF"/>
<rect x="261.63" y="862.13" width="10.5" height="1.71" fill="#7CAE00"/>
<rect x="261.63" y="861.13" width="10.5" height="1.01" fill="#00BFC4"/>
<rect x="261.63" y="859.24" width="10.5" height="1.89" fill="#F8766D"/>
<rect x="261.63" y="857.48" width="10.5" height="1.76" fill="#C77CFF"/>
<rect x="273.29" y="862.39" width="10.5" height="1.45" fill="#7CAE00"/>
<rect x="273.29" y="861.51" width="10.5" height="0.88" fill="#00BFC4"/>
<rect x="273.29" y="860.25" width="10.5" height="1.26" fill="#F8766D"/>
<rect x="273.29" y="858.99" width="10.5" height="1.26" fill="#C77CFF"/>
<rect x="284.96" y="862.13" width="10.5" height="1.71" fill="#7CAE00"/>
<rect x="284.96" y="859.99" width="10.5" height="2.14" fill="#00BFC4"/>
<rect x="284.96" y="857.1" width="10.5" height="2.9" fill="#F8766D"/>
<rect x="284.96" y="853.95" width="10.5" height="3.15" fill="#C77CFF"/>
<rect x="296.63" y="860.88" width="10.5" height="2.96" fill="#7CAE00"/>
<rect x="296.63" y="858.11" width="10.5" height="2.77" fill="#00BFC4"/>
<rect x="296.63" y="854.83" width="10.5" height="3.27" fill="#F8766D"/>
<rect x="296.63" y="850.55" width="10.5" height="4.28" fill="#C77CFF"/>
<rect x="308.3" y="859.99" width="10.5" height="3.85" fill="#7CAE00"/>
<rect x="308.3" y="855.84" width="10.5" height="4.15" fill="#00BFC4"/>
<rect x="308.3" y="851.44" width="10.5" height="4.41" fill="#F8766D"/>
<rect x="308.3" y="845.77" width="10.5" height="5.66" fill="#C77CFF"/>
<rect x="324.5" y="764.14" width="142.35" height="104.5" fill="#EBEBEB"/>
<line x1="324.5" x2="466.85" y1="853.97" y2="853.97" class="gmin"/>
<line x1="324.5" x2="466.85" y1="834.22" y2="834.22" class="gmin"/>
<line x1="324.5" x2="466.85" y1="814.47" y2="814.47" class="gmin"/>
<line x1="324.5" x2="466.85" y1="794.72" y2="794.72" class="gmin"/>
<line x1="324.5" x2="466.85" y1="774.97" y2="774.97" class="gmin"/>
<line x1="324.5" x2="466.85" y1="863.84" y2="863.84" class="gmaj"/>
<line x1="324.5" x2="466.85" y1="844.09" y2="844.09" class="gmaj"/>
<line x1="324.5" x2="466.85" y1="824.34" y2="824.34" class="gmaj"/>
<line x1="324.5" x2="466.85" y1="804.59" y2="804.59" class="gmaj"/>
<line x1="324.5" x2="466.85" y1="784.84" y2="784.84" class="gmaj"/>
<line x1="324.5" x2="466.85" y1="765.09" y2="765.09" class="gmaj"/>
<line x1="331.5" x2="331.5" y1="764.14" y2="868.64" class="gmaj"/>
<line x1="343.17" x2="343.17" y1="764.14" y2="868.64" class="gmaj"/>
<line x1="354.84" x2="354.84" y1="764.14" y2="868.64" class="gmaj"/>
<line x1="366.5" x2="366.5" y1="764.14" y2="868.64" class="gmaj"/>
<line x1="378.17" x2="378.17" y1="764.14" y2="868.64" class="gmaj"/>
<line x1="389.84" x2="389.84" y1="764.14" y2="868.64" class="gmaj"/>
<line x1="401.51" x2="401.51" y1="764.14" y2="868.64" class="gmaj"/>
<line x1="413.18" x2="413.18" y1="764.14" y2="868.64" class="gmaj"/>
<line x1="424.85" x2="424.85" y1="764.14" y2="868.64" class="gmaj"/>
<line x1="436.51" x2="436.51" y1="764.14" y2="868.64" class="gmaj"/>
<line x1="448.18" x2="448.18" y1="764.14" y2="868.64" class="gmaj"/>
<line x1="459.85" x2="459.85" y1="764.14" y2="868.64" class="gmaj"/>
<rect x="326.25" y="860.88" width="10.5" height="2.96" fill="#7CAE00"/>
<rect x="326.25" y="858.36" width="10.5" height="2.52" fill="#00BFC4"/>
<rect x="326.25" y="855.21" width="10.5" height="3.15" fill="#F8766D"/>
<rect x="326.25" y="852.06" width="10.5" height="3.15" fill="#C77CFF"/>
<rect x="337.92" y="862.13" width="10.5" height="1.71" fill="#7CAE00"/>
<rect x="337.92" y="860.25" width="10.5" height="1.89" fill="#00BFC4"/>
<rect x="337.92" y="858.11" width="10.5" height="2.14" fill="#F8766D"/>
<rect x="337.92" y="855.21" width="10.5" height="2.9" fill="#C77CFF"/>
<rect x="349.59" y="862.13" width="10.5" height="1.71" fill="#7CAE00"/>
<rect x="349.59" y="860.25" width="10.5" height="1.89" fill="#00BFC4"/>
<rect x="349.59" y="857.98" width="10.5" height="2.27" fill="#F8766D"/>
<rect x="349.59" y="854.96" width="10.5" height="3.02" fill="#C77CFF"/>
<rect x="361.25" y="862.13" width="10.5" height="1.71" fill="#7CAE00"/>
<rect x="361.25" y="860.25" width="10.5" height="1.89" fill="#00BFC4"/>
<rect x="361.25" y="857.98" width="10.5" height="2.27" fill="#F8766D"/>
<rect x="361.25" y="854.96" width="10.5" height="3.02" fill="#C77CFF"/>
<rect x="372.92" y="856.47" width="10.5" height="7.37" fill="#7CAE00"/>
<rect x="372.92" y="849.92" width="10.5" height="6.55" fill="#00BFC4"/>
<rect x="372.92" y="841.11" width="10.5" height="8.81" fill="#F8766D"/>
<rect x="372.92" y="831.67" width="10.5" height="9.44" fill="#C77CFF"/>
<rect x="384.59" y="861.51" width="10.5" height="2.33" fill="#7CAE00"/>
<rect x="384.59" y="859.24" width="10.5" height="2.27" fill="#00BFC4"/>
<rect x="384.59" y="856.47" width="10.5" height="2.77" fill="#F8766D"/>
<rect x="384.59" y="852.95" width="10.5" height="3.52" fill="#C77CFF"/>
<rect x="396.26" y="861.51" width="10.5" height="2.33" fill="#7CAE00"/>
<rect x="396.26" y="859.62" width="10.5" height="1.89" fill="#00BFC4"/>
<rect x="396.26" y="857.1" width="10.5" height="2.52" fill="#F8766D"/>
<rect x="396.26" y="853.95" width="10.5" height="3.15" fill="#C77CFF"/>
<rect x="407.93" y="861.51" width="10.5" height="2.33" fill="#7CAE00"/>
<rect x="407.93" y="859.62" width="10.5" height="1.89" fill="#00BFC4"/>
<rect x="407.93" y="857.1" width="10.5" height="2.52" fill="#F8766D"/>
<rect x="407.93" y="853.95" width="10.5" height="3.15" fill="#C77CFF"/>
<rect x="419.59" y="861.51" width="10.5" height="2.33" fill="#7CAE00"/>
<rect x="419.59" y="859.62" width="10.5" height="1.89" fill="#00BFC4"/>
<rect x="419.59" y="857.1" width="10.5" height="2.52" fill="#F8766D"/>
<rect x="419.59" y="853.95" width="10.5" height="3.15" fill="#C77CFF"/>
<rect x="431.26" y="860.62" width="10.5" height="3.22" fill="#7CAE00"/>
<rect x="431.26" y="857.35" width="10.5" height="3.27" fill="#00BFC4"/>
<rect x="431.26" y="853.95" width="10.5" height="3.4" fill="#F8766D"/>
<rect x="431.26" y="850.18" width="10.5" height="3.78" fill="#C77CFF"/>
<rect x="442.93" y="859.62" width="10.5" height="4.22" fill="#7CAE00"/>
<rect x="442.93" y="856.47" width="10.5" height="3.15" fill="#00BFC4"/>
<rect x="442.93" y="852.69" width="10.5" height="3.78" fill="#F8766D"/>
<rect x="442.93" y="847.41" width="10.5" height="5.29" fill="#C77CFF"/>
<rect x="454.6" y="858.99" width="10.5" height="4.85" fill="#7CAE00"/>
<rect x="454.6" y="855.59" width="10.5" height="3.4" fill="#00BFC4"/>
<rect x="454.6" y="851.18" width="10.5" height="4.41" fill="#F8766D"/>
<rect x="454.6" y="846.15" width="10.5" height="5.04" fill="#C77CFF"/>
<text class="yt" text-anchor="end" transform="translate(27.9 867.34) scale(1,1.15)">0.0</text>
<line x1="29.8" x2="31.7" y1="863.84" y2="863.84" class="tk"/>
<text class="yt" text-anchor="end" transform="translate(27.9 847.59) scale(1,1.15)">2.5</text>
<line x1="29.8" x2="31.7" y1="844.09" y2="844.09" class="tk"/>
<text class="yt" text-anchor="end" transform="translate(27.9 827.84) scale(1,1.15)">5.0</text>
<line x1="29.8" x2="31.7" y1="824.34" y2="824.34" class="tk"/>
<text class="yt" text-anchor="end" transform="translate(27.9 808.09) scale(1,1.15)">7.5</text>
<line x1="29.8" x2="31.7" y1="804.59" y2="804.59" class="tk"/>
<text class="yt" text-anchor="end" transform="translate(27.9 788.34) scale(1,1.15)">10.0</text>
<line x1="29.8" x2="31.7" y1="784.84" y2="784.84" class="tk"/>
<text class="yt" text-anchor="end" transform="translate(27.9 768.59) scale(1,1.15)">12.5</text>
<line x1="29.8" x2="31.7" y1="765.09" y2="765.09" class="tk"/>
<rect x="466.85" y="872.41" width="14.9" height="104.5" fill="#D9D9D9"/>
<text x="471.1" y="924.66" class="st" text-anchor="middle" transform="rotate(90 471.1 924.66)">WS.DU</text>
<rect x="31.7" y="872.41" width="142.35" height="104.5" fill="#EBEBEB"/>
<line x1="31.7" x2="174.05" y1="962.24" y2="962.24" class="gmin"/>
<line x1="31.7" x2="174.05" y1="942.49" y2="942.49" class="gmin"/>
<line x1="31.7" x2="174.05" y1="922.74" y2="922.74" class="gmin"/>
<line x1="31.7" x2="174.05" y1="902.99" y2="902.99" class="gmin"/>
<line x1="31.7" x2="174.05" y1="883.24" y2="883.24" class="gmin"/>
<line x1="31.7" x2="174.05" y1="972.11" y2="972.11" class="gmaj"/>
<line x1="31.7" x2="174.05" y1="952.36" y2="952.36" class="gmaj"/>
<line x1="31.7" x2="174.05" y1="932.61" y2="932.61" class="gmaj"/>
<line x1="31.7" x2="174.05" y1="912.86" y2="912.86" class="gmaj"/>
<line x1="31.7" x2="174.05" y1="893.11" y2="893.11" class="gmaj"/>
<line x1="31.7" x2="174.05" y1="873.36" y2="873.36" class="gmaj"/>
<line x1="38.7" x2="38.7" y1="872.41" y2="976.91" class="gmaj"/>
<line x1="50.37" x2="50.37" y1="872.41" y2="976.91" class="gmaj"/>
<line x1="62.04" x2="62.04" y1="872.41" y2="976.91" class="gmaj"/>
<line x1="73.7" x2="73.7" y1="872.41" y2="976.91" class="gmaj"/>
<line x1="85.37" x2="85.37" y1="872.41" y2="976.91" class="gmaj"/>
<line x1="97.04" x2="97.04" y1="872.41" y2="976.91" class="gmaj"/>
<line x1="108.71" x2="108.71" y1="872.41" y2="976.91" class="gmaj"/>
<line x1="120.38" x2="120.38" y1="872.41" y2="976.91" class="gmaj"/>
<line x1="132.05" x2="132.05" y1="872.41" y2="976.91" class="gmaj"/>
<line x1="143.71" x2="143.71" y1="872.41" y2="976.91" class="gmaj"/>
<line x1="155.38" x2="155.38" y1="872.41" y2="976.91" class="gmaj"/>
<line x1="167.05" x2="167.05" y1="872.41" y2="976.91" class="gmaj"/>
<rect x="33.45" y="969.99" width="10.5" height="2.12" fill="#7CAE00"/>
<rect x="33.45" y="967.98" width="10.5" height="2.01" fill="#00BFC4"/>
<rect x="33.45" y="965.84" width="10.5" height="2.14" fill="#F8766D"/>
<rect x="33.45" y="963.95" width="10.5" height="1.89" fill="#C77CFF"/>
<rect x="45.12" y="970.25" width="10.5" height="1.86" fill="#7CAE00"/>
<rect x="45.12" y="968.36" width="10.5" height="1.89" fill="#00BFC4"/>
<rect x="45.12" y="966.47" width="10.5" height="1.89" fill="#F8766D"/>
<rect x="45.12" y="965.21" width="10.5" height="1.26" fill="#C77CFF"/>
<rect x="56.79" y="970.25" width="10.5" height="1.86" fill="#7CAE00"/>
<rect x="56.79" y="968.36" width="10.5" height="1.89" fill="#00BFC4"/>
<rect x="56.79" y="966.47" width="10.5" height="1.89" fill="#F8766D"/>
<rect x="56.79" y="965.21" width="10.5" height="1.26" fill="#C77CFF"/>
<rect x="68.45" y="969.99" width="10.5" height="2.12" fill="#7CAE00"/>
<rect x="68.45" y="967.73" width="10.5" height="2.27" fill="#00BFC4"/>
<rect x="68.45" y="965.84" width="10.5" height="1.89" fill="#F8766D"/>
<rect x="68.45" y="964.33" width="10.5" height="1.51" fill="#C77CFF"/>
<rect x="80.12" y="967.98" width="10.5" height="4.13" fill="#7CAE00"/>
<rect x="80.12" y="963.32" width="10.5" height="4.66" fill="#00BFC4"/>
<rect x="80.12" y="959.55" width="10.5" height="3.78" fill="#F8766D"/>
<rect x="80.12" y="956.4" width="10.5" height="3.15" fill="#C77CFF"/>
<rect x="91.79" y="970.5" width="10.5" height="1.61" fill="#7CAE00"/>
<rect x="91.79" y="968.74" width="10.5" height="1.76" fill="#00BFC4"/>
<rect x="91.79" y="967.1" width="10.5" height="1.64" fill="#F8766D"/>
<rect x="91.79" y="965.84" width="10.5" height="1.26" fill="#C77CFF"/>
<rect x="103.46" y="970.25" width="10.5" height="1.86" fill="#7CAE00"/>
<rect x="103.46" y="968.36" width="10.5" height="1.89" fill="#00BFC4"/>
<rect x="103.46" y="966.47" width="10.5" height="1.89" fill="#F8766D"/>
<rect x="103.46" y="965.21" width="10.5" height="1.26" fill="#C77CFF"/>
<rect x="115.13" y="970.25" width="10.5" height="1.86" fill="#7CAE00"/>
<rect x="115.13" y="968.36" width="10.5" height="1.89" fill="#00BFC4"/>
<rect x="115.13" y="966.47" width="10.5" height="1.89" fill="#F8766D"/>
<rect x="115.13" y="965.21" width="10.5" height="1.26" fill="#C77CFF"/>
<rect x="126.79" y="970.62" width="10.5" height="1.49" fill="#7CAE00"/>
<rect x="126.79" y="968.99" width="10.5" height="1.64" fill="#00BFC4"/>
<rect x="126.79" y="967.48" width="10.5" height="1.51" fill="#F8766D"/>
<rect x="126.79" y="966.09" width="10.5" height="1.38" fill="#C77CFF"/>
<rect x="138.46" y="970.62" width="10.5" height="1.49" fill="#7CAE00"/>
<rect x="138.46" y="968.99" width="10.5" height="1.64" fill="#00BFC4"/>
<rect x="138.46" y="967.48" width="10.5" height="1.51" fill="#F8766D"/>
<rect x="138.46" y="966.09" width="10.5" height="1.38" fill="#C77CFF"/>
<rect x="150.13" y="968.99" width="10.5" height="3.12" fill="#7CAE00"/>
<rect x="150.13" y="966.22" width="10.5" height="2.77" fill="#00BFC4"/>
<rect x="150.13" y="963.95" width="10.5" height="2.27" fill="#F8766D"/>
<rect x="150.13" y="961.81" width="10.5" height="2.14" fill="#C77CFF"/>
<rect x="161.8" y="968.74" width="10.5" height="3.37" fill="#7CAE00"/>
<rect x="161.8" y="965.59" width="10.5" height="3.15" fill="#00BFC4"/>
<rect x="161.8" y="962.44" width="10.5" height="3.15" fill="#F8766D"/>
<rect x="161.8" y="960.18" width="10.5" height="2.27" fill="#C77CFF"/>
<rect x="178.2" y="872.41" width="142.35" height="104.5" fill="#EBEBEB"/>
<line x1="178.2" x2="320.55" y1="962.24" y2="962.24" class="gmin"/>
<line x1="178.2" x2="320.55" y1="942.49" y2="942.49" class="gmin"/>
<line x1="178.2" x2="320.55" y1="922.74" y2="922.74" class="gmin"/>
<line x1="178.2" x2="320.55" y1="902.99" y2="902.99" class="gmin"/>
<line x1="178.2" x2="320.55" y1="883.24" y2="883.24" class="gmin"/>
<line x1="178.2" x2="320.55" y1="972.11" y2="972.11" class="gmaj"/>
<line x1="178.2" x2="320.55" y1="952.36" y2="952.36" class="gmaj"/>
<line x1="178.2" x2="320.55" y1="932.61" y2="932.61" class="gmaj"/>
<line x1="178.2" x2="320.55" y1="912.86" y2="912.86" class="gmaj"/>
<line x1="178.2" x2="320.55" y1="893.11" y2="893.11" class="gmaj"/>
<line x1="178.2" x2="320.55" y1="873.36" y2="873.36" class="gmaj"/>
<line x1="185.2" x2="185.2" y1="872.41" y2="976.91" class="gmaj"/>
<line x1="196.87" x2="196.87" y1="872.41" y2="976.91" class="gmaj"/>
<line x1="208.54" x2="208.54" y1="872.41" y2="976.91" class="gmaj"/>
<line x1="220.2" x2="220.2" y1="872.41" y2="976.91" class="gmaj"/>
<line x1="231.87" x2="231.87" y1="872.41" y2="976.91" class="gmaj"/>
<line x1="243.54" x2="243.54" y1="872.41" y2="976.91" class="gmaj"/>
<line x1="255.21" x2="255.21" y1="872.41" y2="976.91" class="gmaj"/>
<line x1="266.88" x2="266.88" y1="872.41" y2="976.91" class="gmaj"/>
<line x1="278.55" x2="278.55" y1="872.41" y2="976.91" class="gmaj"/>
<line x1="290.21" x2="290.21" y1="872.41" y2="976.91" class="gmaj"/>
<line x1="301.88" x2="301.88" y1="872.41" y2="976.91" class="gmaj"/>
<line x1="313.55" x2="313.55" y1="872.41" y2="976.91" class="gmaj"/>
<rect x="179.95" y="970.25" width="10.5" height="1.86" fill="#7CAE00"/>
<rect x="179.95" y="968.74" width="10.5" height="1.51" fill="#00BFC4"/>
<rect x="179.95" y="967.1" width="10.5" height="1.64" fill="#F8766D"/>
<rect x="179.95" y="965.59" width="10.5" height="1.51" fill="#C77CFF"/>
<rect x="191.62" y="970.25" width="10.5" height="1.86" fill="#7CAE00"/>
<rect x="191.62" y="968.36" width="10.5" height="1.89" fill="#00BFC4"/>
<rect x="191.62" y="966.72" width="10.5" height="1.64" fill="#F8766D"/>
<rect x="191.62" y="965.46" width="10.5" height="1.26" fill="#C77CFF"/>
<rect x="203.29" y="970.5" width="10.5" height="1.61" fill="#7CAE00"/>
<rect x="203.29" y="968.99" width="10.5" height="1.51" fill="#00BFC4"/>
<rect x="203.29" y="967.48" width="10.5" height="1.51" fill="#F8766D"/>
<rect x="203.29" y="966.22" width="10.5" height="1.26" fill="#C77CFF"/>
<rect x="214.95" y="970.25" width="10.5" height="1.86" fill="#7CAE00"/>
<rect x="214.95" y="968.36" width="10.5" height="1.89" fill="#00BFC4"/>
<rect x="214.95" y="967.1" width="10.5" height="1.26" fill="#F8766D"/>
<rect x="214.95" y="966.09" width="10.5" height="1.01" fill="#C77CFF"/>
<rect x="226.62" y="968.36" width="10.5" height="3.75" fill="#7CAE00"/>
<rect x="226.62" y="964.2" width="10.5" height="4.15" fill="#00BFC4"/>
<rect x="226.62" y="960.81" width="10.5" height="3.4" fill="#F8766D"/>
<rect x="226.62" y="958.29" width="10.5" height="2.52" fill="#C77CFF"/>
<rect x="238.29" y="970.25" width="10.5" height="1.86" fill="#7CAE00"/>
<rect x="238.29" y="967.98" width="10.5" height="2.27" fill="#00BFC4"/>
<rect x="238.29" y="966.22" width="10.5" height="1.76" fill="#F8766D"/>
<rect x="238.29" y="965.21" width="10.5" height="1.01" fill="#C77CFF"/>
<rect x="249.96" y="970.5" width="10.5" height="1.61" fill="#7CAE00"/>
<rect x="249.96" y="968.99" width="10.5" height="1.51" fill="#00BFC4"/>
<rect x="249.96" y="967.48" width="10.5" height="1.51" fill="#F8766D"/>
<rect x="249.96" y="966.09" width="10.5" height="1.38" fill="#C77CFF"/>
<rect x="261.63" y="970.25" width="10.5" height="1.86" fill="#7CAE00"/>
<rect x="261.63" y="968.36" width="10.5" height="1.89" fill="#00BFC4"/>
<rect x="261.63" y="966.47" width="10.5" height="1.89" fill="#F8766D"/>
<rect x="261.63" y="965.21" width="10.5" height="1.26" fill="#C77CFF"/>
<rect x="273.29" y="970.5" width="10.5" height="1.61" fill="#7CAE00"/>
<rect x="273.29" y="968.99" width="10.5" height="1.51" fill="#00BFC4"/>
<rect x="273.29" y="967.48" width="10.5" height="1.51" fill="#F8766D"/>
<rect x="273.29" y="966.47" width="10.5" height="1.01" fill="#C77CFF"/>
<rect x="284.96" y="970.5" width="10.5" height="1.61" fill="#7CAE00"/>
<rect x="284.96" y="968.99" width="10.5" height="1.51" fill="#00BFC4"/>
<rect x="284.96" y="967.48" width="10.5" height="1.51" fill="#F8766D"/>
<rect x="284.96" y="966.09" width="10.5" height="1.38" fill="#C77CFF"/>
<rect x="296.63" y="969.62" width="10.5" height="2.49" fill="#7CAE00"/>
<rect x="296.63" y="967.1" width="10.5" height="2.52" fill="#00BFC4"/>
<rect x="296.63" y="965.21" width="10.5" height="1.89" fill="#F8766D"/>
<rect x="296.63" y="962.95" width="10.5" height="2.27" fill="#C77CFF"/>
<rect x="308.3" y="968.99" width="10.5" height="3.12" fill="#7CAE00"/>
<rect x="308.3" y="966.22" width="10.5" height="2.77" fill="#00BFC4"/>
<rect x="308.3" y="962.95" width="10.5" height="3.27" fill="#F8766D"/>
<rect x="308.3" y="960.55" width="10.5" height="2.39" fill="#C77CFF"/>
<rect x="324.5" y="872.41" width="142.35" height="104.5" fill="#EBEBEB"/>
<line x1="324.5" x2="466.85" y1="962.24" y2="962.24" class="gmin"/>
<line x1="324.5" x2="466.85" y1="942.49" y2="942.49" class="gmin"/>
<line x1="324.5" x2="466.85" y1="922.74" y2="922.74" class="gmin"/>
<line x1="324.5" x2="466.85" y1="902.99" y2="902.99" class="gmin"/>
<line x1="324.5" x2="466.85" y1="883.24" y2="883.24" class="gmin"/>
<line x1="324.5" x2="466.85" y1="972.11" y2="972.11" class="gmaj"/>
<line x1="324.5" x2="466.85" y1="952.36" y2="952.36" class="gmaj"/>
<line x1="324.5" x2="466.85" y1="932.61" y2="932.61" class="gmaj"/>
<line x1="324.5" x2="466.85" y1="912.86" y2="912.86" class="gmaj"/>
<line x1="324.5" x2="466.85" y1="893.11" y2="893.11" class="gmaj"/>
<line x1="324.5" x2="466.85" y1="873.36" y2="873.36" class="gmaj"/>
<line x1="331.5" x2="331.5" y1="872.41" y2="976.91" class="gmaj"/>
<line x1="343.17" x2="343.17" y1="872.41" y2="976.91" class="gmaj"/>
<line x1="354.84" x2="354.84" y1="872.41" y2="976.91" class="gmaj"/>
<line x1="366.5" x2="366.5" y1="872.41" y2="976.91" class="gmaj"/>
<line x1="378.17" x2="378.17" y1="872.41" y2="976.91" class="gmaj"/>
<line x1="389.84" x2="389.84" y1="872.41" y2="976.91" class="gmaj"/>
<line x1="401.51" x2="401.51" y1="872.41" y2="976.91" class="gmaj"/>
<line x1="413.18" x2="413.18" y1="872.41" y2="976.91" class="gmaj"/>
<line x1="424.85" x2="424.85" y1="872.41" y2="976.91" class="gmaj"/>
<line x1="436.51" x2="436.51" y1="872.41" y2="976.91" class="gmaj"/>
<line x1="448.18" x2="448.18" y1="872.41" y2="976.91" class="gmaj"/>
<line x1="459.85" x2="459.85" y1="872.41" y2="976.91" class="gmaj"/>
<rect x="326.25" y="968.74" width="10.5" height="3.37" fill="#7CAE00"/>
<rect x="326.25" y="965.46" width="10.5" height="3.27" fill="#00BFC4"/>
<rect x="326.25" y="962.44" width="10.5" height="3.02" fill="#F8766D"/>
<rect x="326.25" y="959.17" width="10.5" height="3.27" fill="#C77CFF"/>
<rect x="337.92" y="968.74" width="10.5" height="3.37" fill="#7CAE00"/>
<rect x="337.92" y="965.59" width="10.5" height="3.15" fill="#00BFC4"/>
<rect x="337.92" y="962.95" width="10.5" height="2.64" fill="#F8766D"/>
<rect x="337.92" y="960.18" width="10.5" height="2.77" fill="#C77CFF"/>
<rect x="349.59" y="968.74" width="10.5" height="3.37" fill="#7CAE00"/>
<rect x="349.59" y="965.84" width="10.5" height="2.9" fill="#00BFC4"/>
<rect x="349.59" y="963.7" width="10.5" height="2.14" fill="#F8766D"/>
<rect x="349.59" y="960.81" width="10.5" height="2.9" fill="#C77CFF"/>
<rect x="361.25" y="968.74" width="10.5" height="3.37" fill="#7CAE00"/>
<rect x="361.25" y="965.59" width="10.5" height="3.15" fill="#00BFC4"/>
<rect x="361.25" y="962.95" width="10.5" height="2.64" fill="#F8766D"/>
<rect x="361.25" y="959.92" width="10.5" height="3.02" fill="#C77CFF"/>
<rect x="372.92" y="965.84" width="10.5" height="6.27" fill="#7CAE00"/>
<rect x="372.92" y="961.18" width="10.5" height="4.66" fill="#00BFC4"/>
<rect x="372.92" y="956.15" width="10.5" height="5.04" fill="#F8766D"/>
<rect x="372.92" y="949.1" width="10.5" height="7.05" fill="#C77CFF"/>
<rect x="384.59" y="967.98" width="10.5" height="4.13" fill="#7CAE00"/>
<rect x="384.59" y="964.2" width="10.5" height="3.78" fill="#00BFC4"/>
<rect x="384.59" y="961.06" width="10.5" height="3.15" fill="#F8766D"/>
<rect x="384.59" y="957.41" width="10.5" height="3.65" fill="#C77CFF"/>
<rect x="396.26" y="968.36" width="10.5" height="3.75" fill="#7CAE00"/>
<rect x="396.26" y="964.2" width="10.5" height="4.15" fill="#00BFC4"/>
<rect x="396.26" y="960.81" width="10.5" height="3.4" fill="#F8766D"/>
<rect x="396.26" y="957.66" width="10.5" height="3.15" fill="#C77CFF"/>
<rect x="407.93" y="967.98" width="10.5" height="4.13" fill="#7CAE00"/>
<rect x="407.93" y="963.32" width="10.5" height="4.66" fill="#00BFC4"/>
<rect x="407.93" y="959.8" width="10.5" height="3.52" fill="#F8766D"/>
<rect x="407.93" y="956.78" width="10.5" height="3.02" fill="#C77CFF"/>
<rect x="419.59" y="968.74" width="10.5" height="3.37" fill="#7CAE00"/>
<rect x="419.59" y="965.21" width="10.5" height="3.52" fill="#00BFC4"/>
<rect x="419.59" y="962.06" width="10.5" height="3.15" fill="#F8766D"/>
<rect x="419.59" y="959.3" width="10.5" height="2.77" fill="#C77CFF"/>
<rect x="431.26" y="967.98" width="10.5" height="4.13" fill="#7CAE00"/>
<rect x="431.26" y="963.7" width="10.5" height="4.28" fill="#00BFC4"/>
<rect x="431.26" y="959.8" width="10.5" height="3.9" fill="#F8766D"/>
<rect x="431.26" y="956.4" width="10.5" height="3.4" fill="#C77CFF"/>
<rect x="442.93" y="967.1" width="10.5" height="5.01" fill="#7CAE00"/>
<rect x="442.93" y="961.81" width="10.5" height="5.29" fill="#00BFC4"/>
<rect x="442.93" y="957.41" width="10.5" height="4.41" fill="#F8766D"/>
<rect x="442.93" y="953" width="10.5" height="4.41" fill="#C77CFF"/>
<rect x="454.6" y="967.1" width="10.5" height="5.01" fill="#7CAE00"/>
<rect x="454.6" y="961.81" width="10.5" height="5.29" fill="#00BFC4"/>
<rect x="454.6" y="957.41" width="10.5" height="4.41" fill="#F8766D"/>
<rect x="454.6" y="953" width="10.5" height="4.41" fill="#C77CFF"/>
<text class="yt" text-anchor="end" transform="translate(27.9 975.61) scale(1,1.15)">0.0</text>
<line x1="29.8" x2="31.7" y1="972.11" y2="972.11" class="tk"/>
<text class="yt" text-anchor="end" transform="translate(27.9 955.86) scale(1,1.15)">2.5</text>
<line x1="29.8" x2="31.7" y1="952.36" y2="952.36" class="tk"/>
<text class="yt" text-anchor="end" transform="translate(27.9 936.11) scale(1,1.15)">5.0</text>
<line x1="29.8" x2="31.7" y1="932.61" y2="932.61" class="tk"/>
<text class="yt" text-anchor="end" transform="translate(27.9 916.36) scale(1,1.15)">7.5</text>
<line x1="29.8" x2="31.7" y1="912.86" y2="912.86" class="tk"/>
<text class="yt" text-anchor="end" transform="translate(27.9 896.61) scale(1,1.15)">10.0</text>
<line x1="29.8" x2="31.7" y1="893.11" y2="893.11" class="tk"/>
<text class="yt" text-anchor="end" transform="translate(27.9 876.86) scale(1,1.15)">12.5</text>
<line x1="29.8" x2="31.7" y1="873.36" y2="873.36" class="tk"/>
<line x1="38.7" x2="38.7" y1="976.91" y2="979.31" class="tk"/>
<text class="yt" text-anchor="end" transform="translate(41.7 980.6) rotate(-90) scale(1,1.1)">CCLM.CMAQ</text>
<line x1="50.37" x2="50.37" y1="976.91" y2="979.31" class="tk"/>
<text class="yt" text-anchor="end" transform="translate(53.37 980.6) rotate(-90) scale(1,1.1)">ECMWF.Chimere</text>
<line x1="62.04" x2="62.04" y1="976.91" y2="979.31" class="tk"/>
<text class="yt" text-anchor="end" transform="translate(65.04 980.6) rotate(-90) scale(1,1.1)">ECMWF.L..EUROS</text>
<line x1="73.7" x2="73.7" y1="976.91" y2="979.31" class="tk"/>
<text class="yt" text-anchor="end" transform="translate(76.7 980.6) rotate(-90) scale(1,1.1)">ECMWF.SILAM_H</text>
<line x1="85.37" x2="85.37" y1="976.91" y2="979.31" class="tk"/>
<text class="yt" text-anchor="end" transform="translate(88.37 980.6) rotate(-90) scale(1,1.1)">WRF.CAMx</text>
<line x1="97.04" x2="97.04" y1="976.91" y2="979.31" class="tk"/>
<text class="yt" text-anchor="end" transform="translate(100.04 980.6) rotate(-90) scale(1,1.1)">WRF.CMAQ_1</text>
<line x1="108.71" x2="108.71" y1="976.91" y2="979.31" class="tk"/>
<text class="yt" text-anchor="end" transform="translate(111.71 980.6) rotate(-90) scale(1,1.1)">WRF.CMAQ_2</text>
<line x1="120.38" x2="120.38" y1="976.91" y2="979.31" class="tk"/>
<text class="yt" text-anchor="end" transform="translate(123.38 980.6) rotate(-90) scale(1,1.1)">WRF.CMAQ_3</text>
<line x1="132.05" x2="132.05" y1="976.91" y2="979.31" class="tk"/>
<text class="yt" text-anchor="end" transform="translate(135.05 980.6) rotate(-90) scale(1,1.1)">WRF.CMAQ_4</text>
<line x1="143.71" x2="143.71" y1="976.91" y2="979.31" class="tk"/>
<text class="yt" text-anchor="end" transform="translate(146.71 980.6) rotate(-90) scale(1,1.1)">WRF.DEHM</text>
<line x1="155.38" x2="155.38" y1="976.91" y2="979.31" class="tk"/>
<text class="yt" text-anchor="end" transform="translate(158.38 980.6) rotate(-90) scale(1,1.1)">WRF.WRF.Chem_1</text>
<line x1="167.05" x2="167.05" y1="976.91" y2="979.31" class="tk"/>
<text class="yt" text-anchor="end" transform="translate(170.05 980.6) rotate(-90) scale(1,1.1)">WRF.WRF.Chem_2</text>
<line x1="185.2" x2="185.2" y1="976.91" y2="979.31" class="tk"/>
<text class="yt" text-anchor="end" transform="translate(188.2 980.6) rotate(-90) scale(1,1.1)">CCLM.CMAQ</text>
<line x1="196.87" x2="196.87" y1="976.91" y2="979.31" class="tk"/>
<text class="yt" text-anchor="end" transform="translate(199.87 980.6) rotate(-90) scale(1,1.1)">ECMWF.Chimere</text>
<line x1="208.54" x2="208.54" y1="976.91" y2="979.31" class="tk"/>
<text class="yt" text-anchor="end" transform="translate(211.54 980.6) rotate(-90) scale(1,1.1)">ECMWF.L..EUROS</text>
<line x1="220.2" x2="220.2" y1="976.91" y2="979.31" class="tk"/>
<text class="yt" text-anchor="end" transform="translate(223.2 980.6) rotate(-90) scale(1,1.1)">ECMWF.SILAM_H</text>
<line x1="231.87" x2="231.87" y1="976.91" y2="979.31" class="tk"/>
<text class="yt" text-anchor="end" transform="translate(234.87 980.6) rotate(-90) scale(1,1.1)">WRF.CAMx</text>
<line x1="243.54" x2="243.54" y1="976.91" y2="979.31" class="tk"/>
<text class="yt" text-anchor="end" transform="translate(246.54 980.6) rotate(-90) scale(1,1.1)">WRF.CMAQ_1</text>
<line x1="255.21" x2="255.21" y1="976.91" y2="979.31" class="tk"/>
<text class="yt" text-anchor="end" transform="translate(258.21 980.6) rotate(-90) scale(1,1.1)">WRF.CMAQ_2</text>
<line x1="266.88" x2="266.88" y1="976.91" y2="979.31" class="tk"/>
<text class="yt" text-anchor="end" transform="translate(269.88 980.6) rotate(-90) scale(1,1.1)">WRF.CMAQ_3</text>
<line x1="278.55" x2="278.55" y1="976.91" y2="979.31" class="tk"/>
<text class="yt" text-anchor="end" transform="translate(281.55 980.6) rotate(-90) scale(1,1.1)">WRF.CMAQ_4</text>
<line x1="290.21" x2="290.21" y1="976.91" y2="979.31" class="tk"/>
<text class="yt" text-anchor="end" transform="translate(293.21 980.6) rotate(-90) scale(1,1.1)">WRF.DEHM</text>
<line x1="301.88" x2="301.88" y1="976.91" y2="979.31" class="tk"/>
<text class="yt" text-anchor="end" transform="translate(304.88 980.6) rotate(-90) scale(1,1.1)">WRF.WRF.Chem_1</text>
<line x1="313.55" x2="313.55" y1="976.91" y2="979.31" class="tk"/>
<text class="yt" text-anchor="end" transform="translate(316.55 980.6) rotate(-90) scale(1,1.1)">WRF.WRF.Chem_2</text>
<line x1="331.5" x2="331.5" y1="976.91" y2="979.31" class="tk"/>
<text class="yt" text-anchor="end" transform="translate(334.5 980.6) rotate(-90) scale(1,1.1)">CCLM.CMAQ</text>
<line x1="343.17" x2="343.17" y1="976.91" y2="979.31" class="tk"/>
<text class="yt" text-anchor="end" transform="translate(346.17 980.6) rotate(-90) scale(1,1.1)">ECMWF.Chimere</text>
<line x1="354.84" x2="354.84" y1="976.91" y2="979.31" class="tk"/>
<text class="yt" text-anchor="end" transform="translate(357.84 980.6) rotate(-90) scale(1,1.1)">ECMWF.L..EUROS</text>
<line x1="366.5" x2="366.5" y1="976.91" y2="979.31" class="tk"/>
<text class="yt" text-anchor="end" transform="translate(369.5 980.6) rotate(-90) scale(1,1.1)">ECMWF.SILAM_H</text>
<line x1="378.17" x2="378.17" y1="976.91" y2="979.31" class="tk"/>
<text class="yt" text-anchor="end" transform="translate(381.17 980.6) rotate(-90) scale(1,1.1)">WRF.CAMx</text>
<line x1="389.84" x2="389.84" y1="976.91" y2="979.31" class="tk"/>
<text class="yt" text-anchor="end" transform="translate(392.84 980.6) rotate(-90) scale(1,1.1)">WRF.CMAQ_1</text>
<line x1="401.51" x2="401.51" y1="976.91" y2="979.31" class="tk"/>
<text class="yt" text-anchor="end" transform="translate(404.51 980.6) rotate(-90) scale(1,1.1)">WRF.CMAQ_2</text>
<line x1="413.18" x2="413.18" y1="976.91" y2="979.31" class="tk"/>
<text class="yt" text-anchor="end" transform="translate(416.18 980.6) rotate(-90) scale(1,1.1)">WRF.CMAQ_3</text>
<line x1="424.85" x2="424.85" y1="976.91" y2="979.31" class="tk"/>
<text class="yt" text-anchor="end" transform="translate(427.85 980.6) rotate(-90) scale(1,1.1)">WRF.CMAQ_4</text>
<line x1="436.51" x2="436.51" y1="976.91" y2="979.31" class="tk"/>
<text class="yt" text-anchor="end" transform="translate(439.51 980.6) rotate(-90) scale(1,1.1)">WRF.DEHM</text>
<line x1="448.18" x2="448.18" y1="976.91" y2="979.31" class="tk"/>
<text class="yt" text-anchor="end" transform="translate(451.18 980.6) rotate(-90) scale(1,1.1)">WRF.WRF.Chem_1</text>
<line x1="459.85" x2="459.85" y1="976.91" y2="979.31" class="tk"/>
<text class="yt" text-anchor="end" transform="translate(462.85 980.6) rotate(-90) scale(1,1.1)">WRF.WRF.Chem_2</text>
<text class="ttl" style="font-size:8.6px" transform="translate(8.7 769.0) rotate(-90)">m s<tspan dy="-2.9" font-size="6.2">-1</tspan></text>
<text x="490.6" y="739.8" class="lt">Season</text>
<rect x="491.5" y="743.3" width="12.2" height="10.8" fill="#F8766D"/>
<text x="506.5" y="751.7" class="lab" style="font-size:8.55px">Autumn (SON)</text>
<rect x="491.5" y="755.4" width="12.2" height="10.8" fill="#7CAE00"/>
<text x="506.5" y="763.8" class="lab" style="font-size:8.55px">Spring (MAM)</text>
<rect x="491.5" y="767.5" width="12.2" height="10.8" fill="#00BFC4"/>
<text x="506.5" y="775.9" class="lab" style="font-size:8.55px">Summer (JJA)</text>
<rect x="491.5" y="779.6" width="12.2" height="10.8" fill="#C77CFF"/>
<text x="506.5" y="788" class="lab" style="font-size:8.55px">Winter (DJF)</text>
<text class="tag" transform="translate(490.7 982.9) scale(0.97,1)">(b)</text>
</svg></body></html>
